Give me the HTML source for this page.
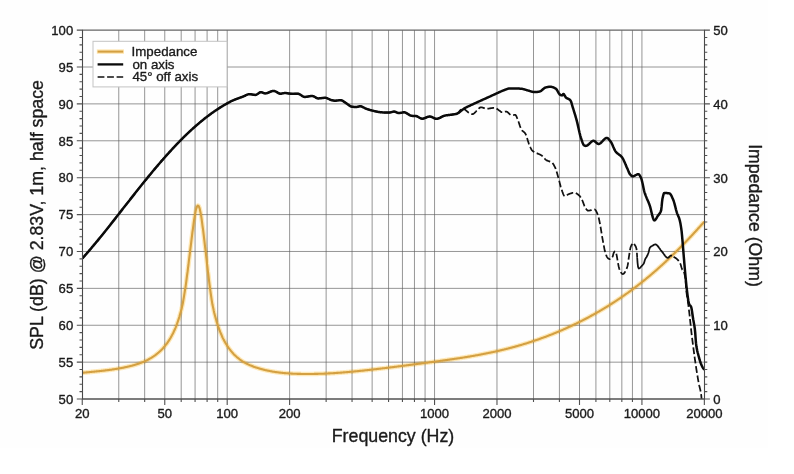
<!DOCTYPE html>
<html lang="en"><head><meta charset="utf-8"><title>Frequency response</title>
<style>html,body{margin:0;padding:0;background:#fff;}body{width:794px;height:474px;overflow:hidden;font-family:"Liberation Sans",Arial,Helvetica,sans-serif;}svg{display:block;}</style>
</head><body>
<svg width="794" height="474" viewBox="0 0 794 474" font-family="'Liberation Sans', Arial, Helvetica, sans-serif" fill="#1a1a1a">
<style>text{stroke:#1a1a1a;stroke-width:0.35px;stroke-linejoin:round}</style>
<rect width="794" height="474" fill="#ffffff"/>
<rect x="0" y="0" width="768" height="448" fill="#fefefe"/>
<path d="M118.77,30.1V399.05 M144.67,30.1V399.05 M164.77,30.1V399.05 M181.19,30.1V399.05 M195.07,30.1V399.05 M207.10,30.1V399.05 M217.70,30.1V399.05 M227.19,30.1V399.05 M289.62,30.1V399.05 M326.13,30.1V399.05 M352.04,30.1V399.05 M372.14,30.1V399.05 M388.56,30.1V399.05 M402.44,30.1V399.05 M414.46,30.1V399.05 M425.07,30.1V399.05 M434.56,30.1V399.05 M496.98,30.1V399.05 M533.50,30.1V399.05 M559.41,30.1V399.05 M579.50,30.1V399.05 M595.92,30.1V399.05 M609.80,30.1V399.05 M621.83,30.1V399.05 M632.44,30.1V399.05 M641.93,30.1V399.05 M82.5,362.16H704.5 M82.5,325.26H704.5 M82.5,288.37H704.5 M82.5,251.47H704.5 M82.5,214.58H704.5 M82.5,177.68H704.5 M82.5,140.79H704.5 M82.5,103.89H704.5 M82.5,67.00H704.5" stroke="#5c5c5c" stroke-width="0.65" fill="none"/>
<clipPath id="c"><rect x="82.25" y="30.1" width="622.1" height="369.55"/></clipPath>
<path d="M82.2,372.8 L82.8,372.7 L83.2,372.7 L83.8,372.6 L84.2,372.6 L84.8,372.5 L85.2,372.5 L85.8,372.5 L86.2,372.4 L86.8,372.4 L87.2,372.3 L87.8,372.3 L88.2,372.2 L88.8,372.2 L89.2,372.1 L89.8,372.1 L90.2,372.0 L90.8,372.0 L91.2,371.9 L91.8,371.9 L92.2,371.8 L92.8,371.8 L93.2,371.7 L93.8,371.7 L94.2,371.6 L94.8,371.6 L95.2,371.5 L95.8,371.5 L96.2,371.4 L96.8,371.4 L97.2,371.3 L97.8,371.3 L98.2,371.2 L98.8,371.2 L99.2,371.1 L99.8,371.1 L100.2,371.0 L100.8,371.0 L101.2,370.9 L101.8,370.9 L102.2,370.8 L102.8,370.7 L103.2,370.7 L103.8,370.6 L104.2,370.6 L104.8,370.5 L105.2,370.4 L105.8,370.4 L106.2,370.3 L106.8,370.3 L107.2,370.2 L107.8,370.1 L108.2,370.1 L108.8,370.0 L109.2,369.9 L109.8,369.9 L110.2,369.8 L110.8,369.7 L111.2,369.7 L111.8,369.6 L112.2,369.5 L112.8,369.4 L113.2,369.4 L113.8,369.3 L114.2,369.2 L114.8,369.1 L115.2,369.0 L115.8,369.0 L116.3,368.9 L116.8,368.8 L117.3,368.7 L117.9,368.6 L118.4,368.5 L118.9,368.4 L119.5,368.3 L120.0,368.3 L120.5,368.2 L121.0,368.1 L121.6,368.0 L122.1,367.9 L122.6,367.8 L123.2,367.7 L123.7,367.6 L124.2,367.5 L124.7,367.3 L125.3,367.2 L125.8,367.1 L126.3,367.0 L126.9,366.9 L127.4,366.8 L127.9,366.6 L128.4,366.5 L129.0,366.4 L129.5,366.3 L130.0,366.1 L130.6,366.0 L131.1,365.9 L131.6,365.7 L132.2,365.6 L132.7,365.5 L133.2,365.3 L133.7,365.2 L134.3,365.0 L134.8,364.9 L135.3,364.7 L135.9,364.5 L136.4,364.4 L136.9,364.2 L137.5,364.0 L138.0,363.9 L138.5,363.7 L139.1,363.5 L139.6,363.3 L140.1,363.1 L140.7,362.9 L141.2,362.7 L141.7,362.5 L142.3,362.3 L142.8,362.1 L143.3,361.9 L143.8,361.7 L144.3,361.5 L144.8,361.3 L145.3,361.0 L145.8,360.8 L146.3,360.6 L146.8,360.3 L147.3,360.1 L147.8,359.8 L148.3,359.5 L148.7,359.3 L149.2,359.0 L149.7,358.7 L150.2,358.4 L150.7,358.2 L151.2,357.9 L151.7,357.6 L152.2,357.2 L152.7,356.9 L153.2,356.6 L153.7,356.3 L154.2,355.9 L154.7,355.6 L155.2,355.2 L155.7,354.9 L156.1,354.5 L156.6,354.1 L157.1,353.7 L157.6,353.3 L158.1,352.9 L158.6,352.5 L159.1,352.0 L159.6,351.6 L160.1,351.1 L160.6,350.7 L161.1,350.2 L161.6,349.7 L162.1,349.2 L162.6,348.7 L163.1,348.1 L163.5,347.6 L164.0,347.0 L164.5,346.5 L165.0,345.9 L165.5,345.2 L166.0,344.6 L166.5,344.0 L167.0,343.3 L167.5,342.6 L168.0,341.9 L168.5,341.2 L169.0,340.4 L169.5,339.6 L170.0,338.8 L170.5,338.0 L170.9,337.2 L171.4,336.3 L171.9,335.4 L172.4,334.4 L172.9,333.5 L173.4,332.5 L173.9,331.4 L174.4,330.3 L174.9,329.2 L175.4,328.1 L175.9,326.9 L176.4,325.6 L176.9,324.4 L177.3,323.0 L177.8,321.6 L178.3,320.2 L178.8,318.7 L179.3,317.1 L179.7,315.5 L180.2,313.8 L180.7,312.1 L181.2,310.3 L181.7,308.4 L182.1,306.4 L182.6,304.3 L183.0,302.2 L183.4,299.9 L183.8,297.6 L184.2,295.2 L184.6,292.6 L185.0,290.0 L185.5,287.2 L185.9,284.3 L186.3,281.3 L186.7,278.2 L187.1,275.0 L187.6,271.6 L188.0,268.1 L188.5,264.5 L188.9,260.7 L189.4,256.9 L189.9,252.9 L190.4,248.9 L190.9,244.8 L191.4,240.6 L191.9,236.5 L192.4,232.4 L193.0,228.3 L193.5,224.4 L194.0,220.7 L194.6,217.2 L195.1,214.1 L195.6,211.4 L196.1,209.1 L196.7,207.3 L197.2,206.2 L197.8,205.6 L198.3,205.7 L198.8,206.4 L199.4,207.7 L199.9,209.6 L200.4,212.0 L201.0,214.9 L201.5,218.2 L202.0,221.9 L202.5,225.8 L203.1,229.9 L203.6,234.1 L204.1,238.4 L204.6,242.7 L205.1,247.0 L205.7,251.3 L206.1,255.5 L206.6,259.7 L207.0,263.7 L207.5,267.6 L207.9,271.3 L208.4,275.0 L208.8,278.5 L209.2,281.8 L209.6,285.1 L210.0,288.2 L210.4,291.2 L210.8,294.0 L211.2,296.7 L211.6,299.4 L212.0,301.9 L212.4,304.3 L212.9,306.6 L213.4,308.8 L213.8,310.9 L214.3,313.0 L214.8,314.9 L215.3,316.8 L215.8,318.6 L216.3,320.3 L216.7,322.0 L217.2,323.5 L217.7,325.1 L218.2,326.5 L218.7,328.0 L219.2,329.3 L219.7,330.6 L220.2,331.9 L220.7,333.1 L221.2,334.3 L221.7,335.4 L222.1,336.5 L222.6,337.6 L223.1,338.6 L223.6,339.6 L224.1,340.5 L224.6,341.4 L225.1,342.3 L225.6,343.2 L226.1,344.0 L226.6,344.8 L227.1,345.6 L227.6,346.4 L228.1,347.1 L228.6,347.8 L229.1,348.5 L229.6,349.2 L230.1,349.8 L230.6,350.4 L231.1,351.1 L231.6,351.7 L232.0,352.2 L232.5,352.8 L233.0,353.3 L233.5,353.9 L234.0,354.4 L234.5,354.9 L235.0,355.4 L235.5,355.8 L236.0,356.3 L236.5,356.7 L237.0,357.2 L237.5,357.6 L238.0,358.0 L238.5,358.4 L239.0,358.8 L239.5,359.2 L240.0,359.6 L240.5,359.9 L241.0,360.3 L241.5,360.6 L241.9,361.0 L242.4,361.3 L242.9,361.6 L243.4,361.9 L244.0,362.2 L244.5,362.5 L245.1,362.8 L245.6,363.1 L246.1,363.4 L246.7,363.7 L247.2,363.9 L247.8,364.2 L248.3,364.4 L248.9,364.7 L249.4,364.9 L249.9,365.2 L250.5,365.4 L251.0,365.6 L251.6,365.8 L252.1,366.0 L252.6,366.3 L253.2,366.5 L253.7,366.7 L254.3,366.9 L254.8,367.0 L255.3,367.2 L255.9,367.4 L256.4,367.6 L257.0,367.8 L257.5,367.9 L258.0,368.1 L258.6,368.3 L259.1,368.4 L259.6,368.6 L260.2,368.7 L260.7,368.9 L261.2,369.0 L261.8,369.2 L262.2,369.3 L262.8,369.4 L263.2,369.6 L263.8,369.7 L264.2,369.8 L264.8,370.0 L265.2,370.1 L265.8,370.2 L266.2,370.3 L266.8,370.4 L267.2,370.5 L267.8,370.6 L268.2,370.7 L268.8,370.8 L269.2,370.9 L269.8,371.0 L270.2,371.1 L270.8,371.2 L271.2,371.3 L271.8,371.4 L272.2,371.5 L272.8,371.6 L273.2,371.7 L273.8,371.8 L274.2,371.8 L274.8,371.9 L275.2,372.0 L275.8,372.1 L276.2,372.1 L276.8,372.2 L277.2,372.3 L277.8,372.3 L278.2,372.4 L278.8,372.5 L279.2,372.5 L279.8,372.6 L280.2,372.6 L280.8,372.7 L281.2,372.8 L281.8,372.8 L282.2,372.9 L282.8,372.9 L283.2,373.0 L283.8,373.0 L284.2,373.1 L284.8,373.1 L285.2,373.1 L285.8,373.2 L286.2,373.2 L286.8,373.3 L287.2,373.3 L287.8,373.3 L288.2,373.4 L288.8,373.4 L289.2,373.5 L289.8,373.5 L290.2,373.5 L290.8,373.5 L291.2,373.6 L291.8,373.6 L292.2,373.6 L292.8,373.7 L293.2,373.7 L293.8,373.7 L294.2,373.7 L294.8,373.8 L295.2,373.8 L295.8,373.8 L296.2,373.8 L296.8,373.8 L297.2,373.9 L297.8,373.9 L298.2,373.9 L298.8,373.9 L299.2,373.9 L299.8,373.9 L300.2,373.9 L300.8,373.9 L301.2,374.0 L301.8,374.0 L302.2,374.0 L302.8,374.0 L303.2,374.0 L303.8,374.0 L304.2,374.0 L304.8,374.0 L305.2,374.0 L305.8,374.0 L306.2,374.0 L306.8,374.0 L307.2,374.0 L307.8,374.0 L308.2,374.0 L308.8,374.0 L309.2,374.0 L309.8,374.0 L310.2,374.0 L310.8,374.0 L311.2,374.0 L311.8,374.0 L312.2,374.0 L312.8,374.0 L313.2,374.0 L313.8,374.0 L314.2,373.9 L314.8,373.9 L315.2,373.9 L315.8,373.9 L316.2,373.9 L316.8,373.9 L317.2,373.9 L317.8,373.9 L318.2,373.8 L318.8,373.8 L319.2,373.8 L319.8,373.8 L320.2,373.8 L320.8,373.8 L321.2,373.8 L321.8,373.7 L322.2,373.7 L322.8,373.7 L323.2,373.7 L323.8,373.7 L324.2,373.6 L324.8,373.6 L325.2,373.6 L325.8,373.6 L326.2,373.5 L326.8,373.5 L327.2,373.5 L327.8,373.5 L328.2,373.4 L328.8,373.4 L329.2,373.4 L329.8,373.4 L330.2,373.3 L330.8,373.3 L331.2,373.3 L331.8,373.2 L332.2,373.2 L332.8,373.2 L333.2,373.2 L333.8,373.1 L334.2,373.1 L334.8,373.1 L335.2,373.0 L335.8,373.0 L336.2,373.0 L336.8,372.9 L337.2,372.9 L337.8,372.9 L338.2,372.8 L338.8,372.8 L339.2,372.7 L339.8,372.7 L340.2,372.7 L340.8,372.6 L341.2,372.6 L341.8,372.6 L342.2,372.5 L342.8,372.5 L343.2,372.4 L343.8,372.4 L344.2,372.4 L344.8,372.3 L345.2,372.3 L345.8,372.2 L346.2,372.2 L346.8,372.1 L347.2,372.1 L347.8,372.1 L348.2,372.0 L348.8,372.0 L349.2,371.9 L349.8,371.9 L350.2,371.8 L350.8,371.8 L351.2,371.7 L351.8,371.7 L352.2,371.7 L352.8,371.6 L353.2,371.6 L353.8,371.5 L354.2,371.5 L354.8,371.4 L355.2,371.4 L355.8,371.3 L356.2,371.3 L356.8,371.2 L357.2,371.2 L357.8,371.1 L358.2,371.1 L358.8,371.0 L359.2,371.0 L359.8,370.9 L360.2,370.9 L360.8,370.8 L361.2,370.8 L361.8,370.7 L362.2,370.7 L362.8,370.6 L363.2,370.6 L363.8,370.5 L364.2,370.5 L364.8,370.4 L365.2,370.3 L365.8,370.3 L366.2,370.2 L366.8,370.2 L367.2,370.1 L367.8,370.1 L368.2,370.0 L368.8,370.0 L369.2,369.9 L369.8,369.9 L370.2,369.8 L370.8,369.7 L371.2,369.7 L371.8,369.6 L372.2,369.6 L372.8,369.5 L373.2,369.5 L373.8,369.4 L374.2,369.3 L374.8,369.3 L375.2,369.2 L375.8,369.2 L376.2,369.1 L376.8,369.1 L377.2,369.0 L377.8,368.9 L378.2,368.9 L378.8,368.8 L379.2,368.8 L379.8,368.7 L380.2,368.6 L380.8,368.6 L381.2,368.5 L381.8,368.5 L382.2,368.4 L382.8,368.3 L383.2,368.3 L383.8,368.2 L384.2,368.2 L384.8,368.1 L385.2,368.0 L385.8,368.0 L386.2,367.9 L386.8,367.9 L387.2,367.8 L387.8,367.7 L388.2,367.7 L388.8,367.6 L389.2,367.5 L389.8,367.5 L390.2,367.4 L390.8,367.4 L391.2,367.3 L391.8,367.2 L392.2,367.2 L392.8,367.1 L393.2,367.1 L393.8,367.0 L394.2,366.9 L394.8,366.9 L395.2,366.8 L395.8,366.7 L396.2,366.7 L396.8,366.6 L397.2,366.5 L397.8,366.5 L398.2,366.4 L398.8,366.4 L399.2,366.3 L399.8,366.2 L400.2,366.2 L400.8,366.1 L401.2,366.0 L401.8,366.0 L402.2,365.9 L402.8,365.8 L403.2,365.8 L403.8,365.7 L404.2,365.6 L404.8,365.6 L405.2,365.5 L405.8,365.5 L406.2,365.4 L406.8,365.3 L407.2,365.3 L407.8,365.2 L408.2,365.1 L408.8,365.1 L409.2,365.0 L409.8,364.9 L410.2,364.9 L410.8,364.8 L411.2,364.7 L411.8,364.7 L412.2,364.6 L412.8,364.5 L413.2,364.5 L413.8,364.4 L414.2,364.4 L414.8,364.3 L415.2,364.2 L415.8,364.2 L416.2,364.1 L416.8,364.0 L417.2,364.0 L417.8,363.9 L418.2,363.8 L418.8,363.8 L419.2,363.7 L419.8,363.6 L420.2,363.6 L420.8,363.5 L421.2,363.4 L421.8,363.4 L422.2,363.3 L422.8,363.2 L423.2,363.2 L423.8,363.1 L424.2,363.0 L424.8,363.0 L425.2,362.9 L425.8,362.8 L426.2,362.8 L426.8,362.7 L427.2,362.7 L427.8,362.6 L428.2,362.5 L428.8,362.5 L429.2,362.4 L429.8,362.3 L430.2,362.3 L430.8,362.2 L431.2,362.1 L431.8,362.1 L432.2,362.0 L432.8,361.9 L433.2,361.9 L433.8,361.8 L434.2,361.7 L434.8,361.7 L435.2,361.6 L435.8,361.5 L436.2,361.5 L436.8,361.4 L437.2,361.3 L437.8,361.3 L438.2,361.2 L438.8,361.1 L439.2,361.0 L439.8,361.0 L440.2,360.9 L440.8,360.8 L441.2,360.8 L441.8,360.7 L442.2,360.6 L442.8,360.6 L443.2,360.5 L443.8,360.4 L444.2,360.4 L444.8,360.3 L445.2,360.2 L445.8,360.1 L446.2,360.1 L446.8,360.0 L447.2,359.9 L447.8,359.9 L448.2,359.8 L448.8,359.7 L449.2,359.6 L449.8,359.6 L450.2,359.5 L450.8,359.4 L451.2,359.4 L451.8,359.3 L452.2,359.2 L452.8,359.1 L453.2,359.1 L453.8,359.0 L454.2,358.9 L454.8,358.8 L455.2,358.8 L455.8,358.7 L456.2,358.6 L456.8,358.5 L457.2,358.5 L457.8,358.4 L458.2,358.3 L458.8,358.2 L459.2,358.2 L459.8,358.1 L460.2,358.0 L460.8,357.9 L461.2,357.9 L461.8,357.8 L462.2,357.7 L462.8,357.6 L463.2,357.5 L463.8,357.5 L464.2,357.4 L464.8,357.3 L465.2,357.2 L465.8,357.1 L466.2,357.1 L466.8,357.0 L467.2,356.9 L467.8,356.8 L468.2,356.7 L468.8,356.6 L469.2,356.6 L469.8,356.5 L470.2,356.4 L470.8,356.3 L471.2,356.2 L471.8,356.1 L472.2,356.0 L472.8,356.0 L473.2,355.9 L473.8,355.8 L474.2,355.7 L474.8,355.6 L475.2,355.5 L475.8,355.4 L476.2,355.3 L476.8,355.2 L477.2,355.2 L477.8,355.1 L478.2,355.0 L478.8,354.9 L479.2,354.8 L479.8,354.7 L480.2,354.6 L480.8,354.5 L481.2,354.4 L481.8,354.3 L482.2,354.2 L482.8,354.1 L483.2,354.0 L483.8,353.9 L484.2,353.8 L484.8,353.7 L485.2,353.6 L485.8,353.5 L486.2,353.4 L486.8,353.3 L487.2,353.2 L487.8,353.1 L488.2,353.0 L488.8,352.9 L489.2,352.8 L489.8,352.7 L490.2,352.6 L490.8,352.5 L491.2,352.4 L491.8,352.3 L492.2,352.2 L492.8,352.1 L493.2,352.0 L493.8,351.9 L494.2,351.8 L494.8,351.7 L495.2,351.6 L495.8,351.4 L496.2,351.3 L496.8,351.2 L497.2,351.1 L497.8,351.0 L498.2,350.9 L498.8,350.8 L499.2,350.7 L499.8,350.5 L500.2,350.4 L500.8,350.3 L501.2,350.2 L501.8,350.1 L502.2,349.9 L502.8,349.8 L503.2,349.7 L503.8,349.6 L504.2,349.5 L504.8,349.3 L505.2,349.2 L505.8,349.1 L506.2,349.0 L506.8,348.8 L507.2,348.7 L507.8,348.6 L508.2,348.5 L508.8,348.3 L509.2,348.2 L509.8,348.1 L510.2,347.9 L510.8,347.8 L511.2,347.7 L511.8,347.6 L512.2,347.4 L512.8,347.3 L513.2,347.1 L513.8,347.0 L514.2,346.9 L514.8,346.7 L515.2,346.6 L515.8,346.5 L516.2,346.3 L516.8,346.2 L517.2,346.0 L517.8,345.9 L518.2,345.8 L518.8,345.6 L519.2,345.5 L519.8,345.3 L520.2,345.2 L520.8,345.0 L521.2,344.9 L521.8,344.7 L522.2,344.6 L522.8,344.4 L523.2,344.3 L523.8,344.1 L524.2,344.0 L524.8,343.8 L525.2,343.7 L525.8,343.5 L526.2,343.4 L526.8,343.2 L527.2,343.1 L527.8,342.9 L528.2,342.7 L528.8,342.6 L529.2,342.4 L529.8,342.3 L530.2,342.1 L530.8,341.9 L531.2,341.8 L531.8,341.6 L532.2,341.4 L532.8,341.3 L533.2,341.1 L533.8,340.9 L534.2,340.8 L534.8,340.6 L535.2,340.4 L535.8,340.3 L536.2,340.1 L536.8,339.9 L537.2,339.7 L537.8,339.6 L538.2,339.4 L538.8,339.2 L539.2,339.0 L539.8,338.9 L540.2,338.7 L540.8,338.5 L541.2,338.3 L541.8,338.1 L542.2,338.0 L542.8,337.8 L543.2,337.6 L543.8,337.4 L544.2,337.2 L544.8,337.0 L545.2,336.9 L545.8,336.7 L546.2,336.5 L546.8,336.3 L547.2,336.1 L547.8,335.9 L548.2,335.7 L548.8,335.5 L549.2,335.3 L549.8,335.1 L550.2,334.9 L550.8,334.7 L551.2,334.6 L551.8,334.4 L552.2,334.2 L552.8,334.0 L553.2,333.8 L553.8,333.6 L554.2,333.4 L554.8,333.1 L555.2,332.9 L555.8,332.7 L556.2,332.5 L556.8,332.3 L557.2,332.1 L557.8,331.9 L558.2,331.7 L558.8,331.5 L559.2,331.3 L559.8,331.1 L560.2,330.9 L560.8,330.6 L561.2,330.4 L561.8,330.2 L562.2,330.0 L562.8,329.8 L563.2,329.6 L563.8,329.3 L564.2,329.1 L564.8,328.9 L565.2,328.7 L565.8,328.5 L566.2,328.2 L566.8,328.0 L567.2,327.8 L567.8,327.6 L568.2,327.3 L568.8,327.1 L569.2,326.9 L569.8,326.6 L570.2,326.4 L570.8,326.2 L571.2,325.9 L571.8,325.7 L572.2,325.5 L572.8,325.2 L573.2,325.0 L573.8,324.8 L574.2,324.5 L574.8,324.3 L575.2,324.0 L575.8,323.8 L576.2,323.6 L576.8,323.3 L577.2,323.1 L577.8,322.8 L578.2,322.6 L578.8,322.3 L579.2,322.1 L579.8,321.8 L580.2,321.6 L580.8,321.3 L581.2,321.1 L581.8,320.8 L582.2,320.6 L582.8,320.3 L583.2,320.0 L583.8,319.8 L584.2,319.5 L584.8,319.3 L585.2,319.0 L585.8,318.7 L586.2,318.5 L586.8,318.2 L587.2,318.0 L587.8,317.7 L588.2,317.4 L588.8,317.2 L589.2,316.9 L589.8,316.6 L590.2,316.3 L590.8,316.1 L591.2,315.8 L591.8,315.5 L592.2,315.2 L592.8,315.0 L593.2,314.7 L593.8,314.4 L594.2,314.1 L594.8,313.9 L595.2,313.6 L595.8,313.3 L596.2,313.0 L596.8,312.7 L597.2,312.4 L597.8,312.1 L598.2,311.9 L598.8,311.6 L599.2,311.3 L599.8,311.0 L600.2,310.7 L600.8,310.4 L601.2,310.1 L601.8,309.8 L602.2,309.5 L602.8,309.2 L603.2,308.9 L603.8,308.6 L604.2,308.3 L604.8,308.0 L605.2,307.7 L605.8,307.4 L606.2,307.1 L606.8,306.8 L607.2,306.5 L607.8,306.2 L608.2,305.9 L608.8,305.5 L609.2,305.2 L609.8,304.9 L610.2,304.6 L610.8,304.3 L611.2,304.0 L611.8,303.7 L612.2,303.3 L612.8,303.0 L613.2,302.7 L613.8,302.4 L614.2,302.0 L614.8,301.7 L615.2,301.4 L615.8,301.1 L616.2,300.7 L616.8,300.4 L617.2,300.1 L617.8,299.7 L618.2,299.4 L618.8,299.1 L619.2,298.7 L619.8,298.4 L620.2,298.1 L620.8,297.7 L621.2,297.4 L621.8,297.0 L622.2,296.7 L622.8,296.3 L623.2,296.0 L623.8,295.6 L624.2,295.3 L624.8,294.9 L625.2,294.6 L625.8,294.2 L626.2,293.9 L626.8,293.5 L627.2,293.2 L627.8,292.8 L628.2,292.5 L628.8,292.1 L629.2,291.7 L629.8,291.4 L630.2,291.0 L630.8,290.6 L631.2,290.3 L631.8,289.9 L632.2,289.5 L632.8,289.2 L633.2,288.8 L633.8,288.4 L634.2,288.0 L634.8,287.7 L635.2,287.3 L635.8,286.9 L636.2,286.5 L636.8,286.2 L637.2,285.8 L637.8,285.4 L638.2,285.0 L638.8,284.6 L639.2,284.2 L639.8,283.8 L640.2,283.4 L640.8,283.1 L641.2,282.7 L641.8,282.3 L642.2,281.9 L642.8,281.5 L643.2,281.1 L643.8,280.7 L644.2,280.3 L644.8,279.9 L645.2,279.5 L645.8,279.1 L646.2,278.6 L646.8,278.2 L647.2,277.8 L647.8,277.4 L648.2,277.0 L648.8,276.6 L649.2,276.2 L649.8,275.8 L650.2,275.3 L650.8,274.9 L651.2,274.5 L651.8,274.1 L652.2,273.6 L652.8,273.2 L653.2,272.8 L653.8,272.4 L654.2,271.9 L654.8,271.5 L655.2,271.1 L655.8,270.6 L656.2,270.2 L656.8,269.8 L657.2,269.3 L657.8,268.9 L658.2,268.4 L658.8,268.0 L659.2,267.5 L659.8,267.1 L660.2,266.6 L660.8,266.2 L661.2,265.7 L661.8,265.3 L662.2,264.8 L662.8,264.4 L663.2,263.9 L663.8,263.5 L664.2,263.0 L664.8,262.5 L665.2,262.1 L665.8,261.6 L666.2,261.1 L666.8,260.7 L667.2,260.2 L667.8,259.7 L668.2,259.3 L668.8,258.8 L669.2,258.3 L669.8,257.8 L670.2,257.4 L670.8,256.9 L671.2,256.4 L671.8,255.9 L672.2,255.4 L672.8,254.9 L673.2,254.4 L673.8,254.0 L674.2,253.5 L674.8,253.0 L675.2,252.5 L675.8,252.0 L676.2,251.5 L676.8,251.0 L677.2,250.5 L677.8,250.0 L678.2,249.5 L678.8,249.0 L679.2,248.5 L679.8,248.0 L680.2,247.5 L680.8,247.0 L681.2,246.5 L681.8,246.0 L682.2,245.4 L682.8,244.9 L683.2,244.4 L683.8,243.9 L684.2,243.4 L684.8,242.9 L685.2,242.4 L685.8,241.8 L686.2,241.3 L686.8,240.8 L687.2,240.3 L687.8,239.7 L688.2,239.2 L688.8,238.7 L689.2,238.2 L689.8,237.6 L690.2,237.1 L690.8,236.6 L691.2,236.0 L691.8,235.5 L692.2,235.0 L692.8,234.4 L693.2,233.9 L693.8,233.3 L694.2,232.8 L694.8,232.3 L695.2,231.7 L695.8,231.2 L696.2,230.6 L696.8,230.1 L697.2,229.5 L697.8,229.0 L698.2,228.4 L698.8,227.9 L699.2,227.3 L699.8,226.8 L700.2,226.2 L700.8,225.7 L701.2,225.1 L701.8,224.5 L702.2,224.0 L702.8,223.4 L703.2,222.9 L703.8,222.3 L704.2,221.7" stroke="#ffe9b8" stroke-width="4.6" fill="none" stroke-linejoin="round" style="mix-blend-mode:multiply"/>
<path d="M82.2,372.8 L82.8,372.7 L83.2,372.7 L83.8,372.6 L84.2,372.6 L84.8,372.5 L85.2,372.5 L85.8,372.5 L86.2,372.4 L86.8,372.4 L87.2,372.3 L87.8,372.3 L88.2,372.2 L88.8,372.2 L89.2,372.1 L89.8,372.1 L90.2,372.0 L90.8,372.0 L91.2,371.9 L91.8,371.9 L92.2,371.8 L92.8,371.8 L93.2,371.7 L93.8,371.7 L94.2,371.6 L94.8,371.6 L95.2,371.5 L95.8,371.5 L96.2,371.4 L96.8,371.4 L97.2,371.3 L97.8,371.3 L98.2,371.2 L98.8,371.2 L99.2,371.1 L99.8,371.1 L100.2,371.0 L100.8,371.0 L101.2,370.9 L101.8,370.9 L102.2,370.8 L102.8,370.7 L103.2,370.7 L103.8,370.6 L104.2,370.6 L104.8,370.5 L105.2,370.4 L105.8,370.4 L106.2,370.3 L106.8,370.3 L107.2,370.2 L107.8,370.1 L108.2,370.1 L108.8,370.0 L109.2,369.9 L109.8,369.9 L110.2,369.8 L110.8,369.7 L111.2,369.7 L111.8,369.6 L112.2,369.5 L112.8,369.4 L113.2,369.4 L113.8,369.3 L114.2,369.2 L114.8,369.1 L115.2,369.0 L115.8,369.0 L116.3,368.9 L116.8,368.8 L117.3,368.7 L117.9,368.6 L118.4,368.5 L118.9,368.4 L119.5,368.3 L120.0,368.3 L120.5,368.2 L121.0,368.1 L121.6,368.0 L122.1,367.9 L122.6,367.8 L123.2,367.7 L123.7,367.6 L124.2,367.5 L124.7,367.3 L125.3,367.2 L125.8,367.1 L126.3,367.0 L126.9,366.9 L127.4,366.8 L127.9,366.6 L128.4,366.5 L129.0,366.4 L129.5,366.3 L130.0,366.1 L130.6,366.0 L131.1,365.9 L131.6,365.7 L132.2,365.6 L132.7,365.5 L133.2,365.3 L133.7,365.2 L134.3,365.0 L134.8,364.9 L135.3,364.7 L135.9,364.5 L136.4,364.4 L136.9,364.2 L137.5,364.0 L138.0,363.9 L138.5,363.7 L139.1,363.5 L139.6,363.3 L140.1,363.1 L140.7,362.9 L141.2,362.7 L141.7,362.5 L142.3,362.3 L142.8,362.1 L143.3,361.9 L143.8,361.7 L144.3,361.5 L144.8,361.3 L145.3,361.0 L145.8,360.8 L146.3,360.6 L146.8,360.3 L147.3,360.1 L147.8,359.8 L148.3,359.5 L148.7,359.3 L149.2,359.0 L149.7,358.7 L150.2,358.4 L150.7,358.2 L151.2,357.9 L151.7,357.6 L152.2,357.2 L152.7,356.9 L153.2,356.6 L153.7,356.3 L154.2,355.9 L154.7,355.6 L155.2,355.2 L155.7,354.9 L156.1,354.5 L156.6,354.1 L157.1,353.7 L157.6,353.3 L158.1,352.9 L158.6,352.5 L159.1,352.0 L159.6,351.6 L160.1,351.1 L160.6,350.7 L161.1,350.2 L161.6,349.7 L162.1,349.2 L162.6,348.7 L163.1,348.1 L163.5,347.6 L164.0,347.0 L164.5,346.5 L165.0,345.9 L165.5,345.2 L166.0,344.6 L166.5,344.0 L167.0,343.3 L167.5,342.6 L168.0,341.9 L168.5,341.2 L169.0,340.4 L169.5,339.6 L170.0,338.8 L170.5,338.0 L170.9,337.2 L171.4,336.3 L171.9,335.4 L172.4,334.4 L172.9,333.5 L173.4,332.5 L173.9,331.4 L174.4,330.3 L174.9,329.2 L175.4,328.1 L175.9,326.9 L176.4,325.6 L176.9,324.4 L177.3,323.0 L177.8,321.6 L178.3,320.2 L178.8,318.7 L179.3,317.1 L179.7,315.5 L180.2,313.8 L180.7,312.1 L181.2,310.3 L181.7,308.4 L182.1,306.4 L182.6,304.3 L183.0,302.2 L183.4,299.9 L183.8,297.6 L184.2,295.2 L184.6,292.6 L185.0,290.0 L185.5,287.2 L185.9,284.3 L186.3,281.3 L186.7,278.2 L187.1,275.0 L187.6,271.6 L188.0,268.1 L188.5,264.5 L188.9,260.7 L189.4,256.9 L189.9,252.9 L190.4,248.9 L190.9,244.8 L191.4,240.6 L191.9,236.5 L192.4,232.4 L193.0,228.3 L193.5,224.4 L194.0,220.7 L194.6,217.2 L195.1,214.1 L195.6,211.4 L196.1,209.1 L196.7,207.3 L197.2,206.2 L197.8,205.6 L198.3,205.7 L198.8,206.4 L199.4,207.7 L199.9,209.6 L200.4,212.0 L201.0,214.9 L201.5,218.2 L202.0,221.9 L202.5,225.8 L203.1,229.9 L203.6,234.1 L204.1,238.4 L204.6,242.7 L205.1,247.0 L205.7,251.3 L206.1,255.5 L206.6,259.7 L207.0,263.7 L207.5,267.6 L207.9,271.3 L208.4,275.0 L208.8,278.5 L209.2,281.8 L209.6,285.1 L210.0,288.2 L210.4,291.2 L210.8,294.0 L211.2,296.7 L211.6,299.4 L212.0,301.9 L212.4,304.3 L212.9,306.6 L213.4,308.8 L213.8,310.9 L214.3,313.0 L214.8,314.9 L215.3,316.8 L215.8,318.6 L216.3,320.3 L216.7,322.0 L217.2,323.5 L217.7,325.1 L218.2,326.5 L218.7,328.0 L219.2,329.3 L219.7,330.6 L220.2,331.9 L220.7,333.1 L221.2,334.3 L221.7,335.4 L222.1,336.5 L222.6,337.6 L223.1,338.6 L223.6,339.6 L224.1,340.5 L224.6,341.4 L225.1,342.3 L225.6,343.2 L226.1,344.0 L226.6,344.8 L227.1,345.6 L227.6,346.4 L228.1,347.1 L228.6,347.8 L229.1,348.5 L229.6,349.2 L230.1,349.8 L230.6,350.4 L231.1,351.1 L231.6,351.7 L232.0,352.2 L232.5,352.8 L233.0,353.3 L233.5,353.9 L234.0,354.4 L234.5,354.9 L235.0,355.4 L235.5,355.8 L236.0,356.3 L236.5,356.7 L237.0,357.2 L237.5,357.6 L238.0,358.0 L238.5,358.4 L239.0,358.8 L239.5,359.2 L240.0,359.6 L240.5,359.9 L241.0,360.3 L241.5,360.6 L241.9,361.0 L242.4,361.3 L242.9,361.6 L243.4,361.9 L244.0,362.2 L244.5,362.5 L245.1,362.8 L245.6,363.1 L246.1,363.4 L246.7,363.7 L247.2,363.9 L247.8,364.2 L248.3,364.4 L248.9,364.7 L249.4,364.9 L249.9,365.2 L250.5,365.4 L251.0,365.6 L251.6,365.8 L252.1,366.0 L252.6,366.3 L253.2,366.5 L253.7,366.7 L254.3,366.9 L254.8,367.0 L255.3,367.2 L255.9,367.4 L256.4,367.6 L257.0,367.8 L257.5,367.9 L258.0,368.1 L258.6,368.3 L259.1,368.4 L259.6,368.6 L260.2,368.7 L260.7,368.9 L261.2,369.0 L261.8,369.2 L262.2,369.3 L262.8,369.4 L263.2,369.6 L263.8,369.7 L264.2,369.8 L264.8,370.0 L265.2,370.1 L265.8,370.2 L266.2,370.3 L266.8,370.4 L267.2,370.5 L267.8,370.6 L268.2,370.7 L268.8,370.8 L269.2,370.9 L269.8,371.0 L270.2,371.1 L270.8,371.2 L271.2,371.3 L271.8,371.4 L272.2,371.5 L272.8,371.6 L273.2,371.7 L273.8,371.8 L274.2,371.8 L274.8,371.9 L275.2,372.0 L275.8,372.1 L276.2,372.1 L276.8,372.2 L277.2,372.3 L277.8,372.3 L278.2,372.4 L278.8,372.5 L279.2,372.5 L279.8,372.6 L280.2,372.6 L280.8,372.7 L281.2,372.8 L281.8,372.8 L282.2,372.9 L282.8,372.9 L283.2,373.0 L283.8,373.0 L284.2,373.1 L284.8,373.1 L285.2,373.1 L285.8,373.2 L286.2,373.2 L286.8,373.3 L287.2,373.3 L287.8,373.3 L288.2,373.4 L288.8,373.4 L289.2,373.5 L289.8,373.5 L290.2,373.5 L290.8,373.5 L291.2,373.6 L291.8,373.6 L292.2,373.6 L292.8,373.7 L293.2,373.7 L293.8,373.7 L294.2,373.7 L294.8,373.8 L295.2,373.8 L295.8,373.8 L296.2,373.8 L296.8,373.8 L297.2,373.9 L297.8,373.9 L298.2,373.9 L298.8,373.9 L299.2,373.9 L299.8,373.9 L300.2,373.9 L300.8,373.9 L301.2,374.0 L301.8,374.0 L302.2,374.0 L302.8,374.0 L303.2,374.0 L303.8,374.0 L304.2,374.0 L304.8,374.0 L305.2,374.0 L305.8,374.0 L306.2,374.0 L306.8,374.0 L307.2,374.0 L307.8,374.0 L308.2,374.0 L308.8,374.0 L309.2,374.0 L309.8,374.0 L310.2,374.0 L310.8,374.0 L311.2,374.0 L311.8,374.0 L312.2,374.0 L312.8,374.0 L313.2,374.0 L313.8,374.0 L314.2,373.9 L314.8,373.9 L315.2,373.9 L315.8,373.9 L316.2,373.9 L316.8,373.9 L317.2,373.9 L317.8,373.9 L318.2,373.8 L318.8,373.8 L319.2,373.8 L319.8,373.8 L320.2,373.8 L320.8,373.8 L321.2,373.8 L321.8,373.7 L322.2,373.7 L322.8,373.7 L323.2,373.7 L323.8,373.7 L324.2,373.6 L324.8,373.6 L325.2,373.6 L325.8,373.6 L326.2,373.5 L326.8,373.5 L327.2,373.5 L327.8,373.5 L328.2,373.4 L328.8,373.4 L329.2,373.4 L329.8,373.4 L330.2,373.3 L330.8,373.3 L331.2,373.3 L331.8,373.2 L332.2,373.2 L332.8,373.2 L333.2,373.2 L333.8,373.1 L334.2,373.1 L334.8,373.1 L335.2,373.0 L335.8,373.0 L336.2,373.0 L336.8,372.9 L337.2,372.9 L337.8,372.9 L338.2,372.8 L338.8,372.8 L339.2,372.7 L339.8,372.7 L340.2,372.7 L340.8,372.6 L341.2,372.6 L341.8,372.6 L342.2,372.5 L342.8,372.5 L343.2,372.4 L343.8,372.4 L344.2,372.4 L344.8,372.3 L345.2,372.3 L345.8,372.2 L346.2,372.2 L346.8,372.1 L347.2,372.1 L347.8,372.1 L348.2,372.0 L348.8,372.0 L349.2,371.9 L349.8,371.9 L350.2,371.8 L350.8,371.8 L351.2,371.7 L351.8,371.7 L352.2,371.7 L352.8,371.6 L353.2,371.6 L353.8,371.5 L354.2,371.5 L354.8,371.4 L355.2,371.4 L355.8,371.3 L356.2,371.3 L356.8,371.2 L357.2,371.2 L357.8,371.1 L358.2,371.1 L358.8,371.0 L359.2,371.0 L359.8,370.9 L360.2,370.9 L360.8,370.8 L361.2,370.8 L361.8,370.7 L362.2,370.7 L362.8,370.6 L363.2,370.6 L363.8,370.5 L364.2,370.5 L364.8,370.4 L365.2,370.3 L365.8,370.3 L366.2,370.2 L366.8,370.2 L367.2,370.1 L367.8,370.1 L368.2,370.0 L368.8,370.0 L369.2,369.9 L369.8,369.9 L370.2,369.8 L370.8,369.7 L371.2,369.7 L371.8,369.6 L372.2,369.6 L372.8,369.5 L373.2,369.5 L373.8,369.4 L374.2,369.3 L374.8,369.3 L375.2,369.2 L375.8,369.2 L376.2,369.1 L376.8,369.1 L377.2,369.0 L377.8,368.9 L378.2,368.9 L378.8,368.8 L379.2,368.8 L379.8,368.7 L380.2,368.6 L380.8,368.6 L381.2,368.5 L381.8,368.5 L382.2,368.4 L382.8,368.3 L383.2,368.3 L383.8,368.2 L384.2,368.2 L384.8,368.1 L385.2,368.0 L385.8,368.0 L386.2,367.9 L386.8,367.9 L387.2,367.8 L387.8,367.7 L388.2,367.7 L388.8,367.6 L389.2,367.5 L389.8,367.5 L390.2,367.4 L390.8,367.4 L391.2,367.3 L391.8,367.2 L392.2,367.2 L392.8,367.1 L393.2,367.1 L393.8,367.0 L394.2,366.9 L394.8,366.9 L395.2,366.8 L395.8,366.7 L396.2,366.7 L396.8,366.6 L397.2,366.5 L397.8,366.5 L398.2,366.4 L398.8,366.4 L399.2,366.3 L399.8,366.2 L400.2,366.2 L400.8,366.1 L401.2,366.0 L401.8,366.0 L402.2,365.9 L402.8,365.8 L403.2,365.8 L403.8,365.7 L404.2,365.6 L404.8,365.6 L405.2,365.5 L405.8,365.5 L406.2,365.4 L406.8,365.3 L407.2,365.3 L407.8,365.2 L408.2,365.1 L408.8,365.1 L409.2,365.0 L409.8,364.9 L410.2,364.9 L410.8,364.8 L411.2,364.7 L411.8,364.7 L412.2,364.6 L412.8,364.5 L413.2,364.5 L413.8,364.4 L414.2,364.4 L414.8,364.3 L415.2,364.2 L415.8,364.2 L416.2,364.1 L416.8,364.0 L417.2,364.0 L417.8,363.9 L418.2,363.8 L418.8,363.8 L419.2,363.7 L419.8,363.6 L420.2,363.6 L420.8,363.5 L421.2,363.4 L421.8,363.4 L422.2,363.3 L422.8,363.2 L423.2,363.2 L423.8,363.1 L424.2,363.0 L424.8,363.0 L425.2,362.9 L425.8,362.8 L426.2,362.8 L426.8,362.7 L427.2,362.7 L427.8,362.6 L428.2,362.5 L428.8,362.5 L429.2,362.4 L429.8,362.3 L430.2,362.3 L430.8,362.2 L431.2,362.1 L431.8,362.1 L432.2,362.0 L432.8,361.9 L433.2,361.9 L433.8,361.8 L434.2,361.7 L434.8,361.7 L435.2,361.6 L435.8,361.5 L436.2,361.5 L436.8,361.4 L437.2,361.3 L437.8,361.3 L438.2,361.2 L438.8,361.1 L439.2,361.0 L439.8,361.0 L440.2,360.9 L440.8,360.8 L441.2,360.8 L441.8,360.7 L442.2,360.6 L442.8,360.6 L443.2,360.5 L443.8,360.4 L444.2,360.4 L444.8,360.3 L445.2,360.2 L445.8,360.1 L446.2,360.1 L446.8,360.0 L447.2,359.9 L447.8,359.9 L448.2,359.8 L448.8,359.7 L449.2,359.6 L449.8,359.6 L450.2,359.5 L450.8,359.4 L451.2,359.4 L451.8,359.3 L452.2,359.2 L452.8,359.1 L453.2,359.1 L453.8,359.0 L454.2,358.9 L454.8,358.8 L455.2,358.8 L455.8,358.7 L456.2,358.6 L456.8,358.5 L457.2,358.5 L457.8,358.4 L458.2,358.3 L458.8,358.2 L459.2,358.2 L459.8,358.1 L460.2,358.0 L460.8,357.9 L461.2,357.9 L461.8,357.8 L462.2,357.7 L462.8,357.6 L463.2,357.5 L463.8,357.5 L464.2,357.4 L464.8,357.3 L465.2,357.2 L465.8,357.1 L466.2,357.1 L466.8,357.0 L467.2,356.9 L467.8,356.8 L468.2,356.7 L468.8,356.6 L469.2,356.6 L469.8,356.5 L470.2,356.4 L470.8,356.3 L471.2,356.2 L471.8,356.1 L472.2,356.0 L472.8,356.0 L473.2,355.9 L473.8,355.8 L474.2,355.7 L474.8,355.6 L475.2,355.5 L475.8,355.4 L476.2,355.3 L476.8,355.2 L477.2,355.2 L477.8,355.1 L478.2,355.0 L478.8,354.9 L479.2,354.8 L479.8,354.7 L480.2,354.6 L480.8,354.5 L481.2,354.4 L481.8,354.3 L482.2,354.2 L482.8,354.1 L483.2,354.0 L483.8,353.9 L484.2,353.8 L484.8,353.7 L485.2,353.6 L485.8,353.5 L486.2,353.4 L486.8,353.3 L487.2,353.2 L487.8,353.1 L488.2,353.0 L488.8,352.9 L489.2,352.8 L489.8,352.7 L490.2,352.6 L490.8,352.5 L491.2,352.4 L491.8,352.3 L492.2,352.2 L492.8,352.1 L493.2,352.0 L493.8,351.9 L494.2,351.8 L494.8,351.7 L495.2,351.6 L495.8,351.4 L496.2,351.3 L496.8,351.2 L497.2,351.1 L497.8,351.0 L498.2,350.9 L498.8,350.8 L499.2,350.7 L499.8,350.5 L500.2,350.4 L500.8,350.3 L501.2,350.2 L501.8,350.1 L502.2,349.9 L502.8,349.8 L503.2,349.7 L503.8,349.6 L504.2,349.5 L504.8,349.3 L505.2,349.2 L505.8,349.1 L506.2,349.0 L506.8,348.8 L507.2,348.7 L507.8,348.6 L508.2,348.5 L508.8,348.3 L509.2,348.2 L509.8,348.1 L510.2,347.9 L510.8,347.8 L511.2,347.7 L511.8,347.6 L512.2,347.4 L512.8,347.3 L513.2,347.1 L513.8,347.0 L514.2,346.9 L514.8,346.7 L515.2,346.6 L515.8,346.5 L516.2,346.3 L516.8,346.2 L517.2,346.0 L517.8,345.9 L518.2,345.8 L518.8,345.6 L519.2,345.5 L519.8,345.3 L520.2,345.2 L520.8,345.0 L521.2,344.9 L521.8,344.7 L522.2,344.6 L522.8,344.4 L523.2,344.3 L523.8,344.1 L524.2,344.0 L524.8,343.8 L525.2,343.7 L525.8,343.5 L526.2,343.4 L526.8,343.2 L527.2,343.1 L527.8,342.9 L528.2,342.7 L528.8,342.6 L529.2,342.4 L529.8,342.3 L530.2,342.1 L530.8,341.9 L531.2,341.8 L531.8,341.6 L532.2,341.4 L532.8,341.3 L533.2,341.1 L533.8,340.9 L534.2,340.8 L534.8,340.6 L535.2,340.4 L535.8,340.3 L536.2,340.1 L536.8,339.9 L537.2,339.7 L537.8,339.6 L538.2,339.4 L538.8,339.2 L539.2,339.0 L539.8,338.9 L540.2,338.7 L540.8,338.5 L541.2,338.3 L541.8,338.1 L542.2,338.0 L542.8,337.8 L543.2,337.6 L543.8,337.4 L544.2,337.2 L544.8,337.0 L545.2,336.9 L545.8,336.7 L546.2,336.5 L546.8,336.3 L547.2,336.1 L547.8,335.9 L548.2,335.7 L548.8,335.5 L549.2,335.3 L549.8,335.1 L550.2,334.9 L550.8,334.7 L551.2,334.6 L551.8,334.4 L552.2,334.2 L552.8,334.0 L553.2,333.8 L553.8,333.6 L554.2,333.4 L554.8,333.1 L555.2,332.9 L555.8,332.7 L556.2,332.5 L556.8,332.3 L557.2,332.1 L557.8,331.9 L558.2,331.7 L558.8,331.5 L559.2,331.3 L559.8,331.1 L560.2,330.9 L560.8,330.6 L561.2,330.4 L561.8,330.2 L562.2,330.0 L562.8,329.8 L563.2,329.6 L563.8,329.3 L564.2,329.1 L564.8,328.9 L565.2,328.7 L565.8,328.5 L566.2,328.2 L566.8,328.0 L567.2,327.8 L567.8,327.6 L568.2,327.3 L568.8,327.1 L569.2,326.9 L569.8,326.6 L570.2,326.4 L570.8,326.2 L571.2,325.9 L571.8,325.7 L572.2,325.5 L572.8,325.2 L573.2,325.0 L573.8,324.8 L574.2,324.5 L574.8,324.3 L575.2,324.0 L575.8,323.8 L576.2,323.6 L576.8,323.3 L577.2,323.1 L577.8,322.8 L578.2,322.6 L578.8,322.3 L579.2,322.1 L579.8,321.8 L580.2,321.6 L580.8,321.3 L581.2,321.1 L581.8,320.8 L582.2,320.6 L582.8,320.3 L583.2,320.0 L583.8,319.8 L584.2,319.5 L584.8,319.3 L585.2,319.0 L585.8,318.7 L586.2,318.5 L586.8,318.2 L587.2,318.0 L587.8,317.7 L588.2,317.4 L588.8,317.2 L589.2,316.9 L589.8,316.6 L590.2,316.3 L590.8,316.1 L591.2,315.8 L591.8,315.5 L592.2,315.2 L592.8,315.0 L593.2,314.7 L593.8,314.4 L594.2,314.1 L594.8,313.9 L595.2,313.6 L595.8,313.3 L596.2,313.0 L596.8,312.7 L597.2,312.4 L597.8,312.1 L598.2,311.9 L598.8,311.6 L599.2,311.3 L599.8,311.0 L600.2,310.7 L600.8,310.4 L601.2,310.1 L601.8,309.8 L602.2,309.5 L602.8,309.2 L603.2,308.9 L603.8,308.6 L604.2,308.3 L604.8,308.0 L605.2,307.7 L605.8,307.4 L606.2,307.1 L606.8,306.8 L607.2,306.5 L607.8,306.2 L608.2,305.9 L608.8,305.5 L609.2,305.2 L609.8,304.9 L610.2,304.6 L610.8,304.3 L611.2,304.0 L611.8,303.7 L612.2,303.3 L612.8,303.0 L613.2,302.7 L613.8,302.4 L614.2,302.0 L614.8,301.7 L615.2,301.4 L615.8,301.1 L616.2,300.7 L616.8,300.4 L617.2,300.1 L617.8,299.7 L618.2,299.4 L618.8,299.1 L619.2,298.7 L619.8,298.4 L620.2,298.1 L620.8,297.7 L621.2,297.4 L621.8,297.0 L622.2,296.7 L622.8,296.3 L623.2,296.0 L623.8,295.6 L624.2,295.3 L624.8,294.9 L625.2,294.6 L625.8,294.2 L626.2,293.9 L626.8,293.5 L627.2,293.2 L627.8,292.8 L628.2,292.5 L628.8,292.1 L629.2,291.7 L629.8,291.4 L630.2,291.0 L630.8,290.6 L631.2,290.3 L631.8,289.9 L632.2,289.5 L632.8,289.2 L633.2,288.8 L633.8,288.4 L634.2,288.0 L634.8,287.7 L635.2,287.3 L635.8,286.9 L636.2,286.5 L636.8,286.2 L637.2,285.8 L637.8,285.4 L638.2,285.0 L638.8,284.6 L639.2,284.2 L639.8,283.8 L640.2,283.4 L640.8,283.1 L641.2,282.7 L641.8,282.3 L642.2,281.9 L642.8,281.5 L643.2,281.1 L643.8,280.7 L644.2,280.3 L644.8,279.9 L645.2,279.5 L645.8,279.1 L646.2,278.6 L646.8,278.2 L647.2,277.8 L647.8,277.4 L648.2,277.0 L648.8,276.6 L649.2,276.2 L649.8,275.8 L650.2,275.3 L650.8,274.9 L651.2,274.5 L651.8,274.1 L652.2,273.6 L652.8,273.2 L653.2,272.8 L653.8,272.4 L654.2,271.9 L654.8,271.5 L655.2,271.1 L655.8,270.6 L656.2,270.2 L656.8,269.8 L657.2,269.3 L657.8,268.9 L658.2,268.4 L658.8,268.0 L659.2,267.5 L659.8,267.1 L660.2,266.6 L660.8,266.2 L661.2,265.7 L661.8,265.3 L662.2,264.8 L662.8,264.4 L663.2,263.9 L663.8,263.5 L664.2,263.0 L664.8,262.5 L665.2,262.1 L665.8,261.6 L666.2,261.1 L666.8,260.7 L667.2,260.2 L667.8,259.7 L668.2,259.3 L668.8,258.8 L669.2,258.3 L669.8,257.8 L670.2,257.4 L670.8,256.9 L671.2,256.4 L671.8,255.9 L672.2,255.4 L672.8,254.9 L673.2,254.4 L673.8,254.0 L674.2,253.5 L674.8,253.0 L675.2,252.5 L675.8,252.0 L676.2,251.5 L676.8,251.0 L677.2,250.5 L677.8,250.0 L678.2,249.5 L678.8,249.0 L679.2,248.5 L679.8,248.0 L680.2,247.5 L680.8,247.0 L681.2,246.5 L681.8,246.0 L682.2,245.4 L682.8,244.9 L683.2,244.4 L683.8,243.9 L684.2,243.4 L684.8,242.9 L685.2,242.4 L685.8,241.8 L686.2,241.3 L686.8,240.8 L687.2,240.3 L687.8,239.7 L688.2,239.2 L688.8,238.7 L689.2,238.2 L689.8,237.6 L690.2,237.1 L690.8,236.6 L691.2,236.0 L691.8,235.5 L692.2,235.0 L692.8,234.4 L693.2,233.9 L693.8,233.3 L694.2,232.8 L694.8,232.3 L695.2,231.7 L695.8,231.2 L696.2,230.6 L696.8,230.1 L697.2,229.5 L697.8,229.0 L698.2,228.4 L698.8,227.9 L699.2,227.3 L699.8,226.8 L700.2,226.2 L700.8,225.7 L701.2,225.1 L701.8,224.5 L702.2,224.0 L702.8,223.4 L703.2,222.9 L703.8,222.3 L704.2,221.7" stroke="#d4a042" stroke-width="2.1" fill="none" stroke-linejoin="round" stroke-linecap="butt"/>
<g clip-path="url(#c)">
<path d="M82.4,258.3 L82.8,257.9 L83.2,257.4 L83.6,257.0 L84.0,256.5 L84.4,256.1 L84.8,255.6 L85.2,255.2 L85.6,254.7 L86.0,254.3 L86.4,253.8 L86.8,253.4 L87.2,252.9 L87.6,252.4 L88.0,252.0 L88.4,251.5 L88.8,251.1 L89.2,250.6 L89.6,250.1 L90.0,249.7 L90.4,249.2 L90.8,248.7 L91.2,248.2 L91.6,247.8 L92.0,247.3 L92.4,246.8 L92.8,246.3 L93.2,245.9 L93.6,245.4 L94.0,244.9 L94.4,244.4 L94.8,244.0 L95.2,243.5 L95.6,243.0 L96.0,242.5 L96.4,242.0 L96.8,241.5 L97.2,241.1 L97.6,240.6 L98.0,240.1 L98.4,239.6 L98.8,239.1 L99.2,238.6 L99.6,238.1 L100.0,237.6 L100.4,237.2 L100.8,236.7 L101.2,236.2 L101.6,235.7 L102.0,235.2 L102.4,234.7 L102.8,234.2 L103.2,233.7 L103.6,233.2 L104.0,232.7 L104.4,232.2 L104.8,231.7 L105.2,231.2 L105.6,230.7 L106.0,230.2 L106.4,229.7 L106.8,229.2 L107.2,228.7 L107.6,228.2 L108.0,227.7 L108.4,227.2 L108.8,226.7 L109.2,226.2 L109.6,225.7 L110.0,225.2 L110.4,224.7 L110.8,224.1 L111.2,223.6 L111.6,223.1 L112.0,222.6 L112.4,222.1 L112.8,221.6 L113.2,221.1 L113.6,220.6 L114.0,220.1 L114.4,219.6 L114.8,219.1 L115.2,218.6 L115.6,218.1 L116.0,217.5 L116.4,217.0 L116.8,216.5 L117.2,216.0 L117.6,215.5 L118.0,215.0 L118.4,214.5 L118.8,214.0 L119.2,213.5 L119.6,212.9 L120.0,212.4 L120.4,211.9 L120.8,211.4 L121.2,210.9 L121.6,210.4 L122.0,209.9 L122.4,209.4 L122.8,208.8 L123.2,208.3 L123.6,207.8 L124.0,207.3 L124.4,206.8 L124.8,206.3 L125.2,205.8 L125.6,205.3 L126.0,204.8 L126.4,204.2 L126.8,203.7 L127.2,203.2 L127.6,202.7 L128.0,202.2 L128.4,201.7 L128.8,201.2 L129.2,200.7 L129.6,200.2 L130.0,199.7 L130.4,199.1 L130.8,198.6 L131.2,198.1 L131.6,197.6 L132.0,197.1 L132.4,196.6 L132.8,196.1 L133.2,195.6 L133.6,195.1 L134.0,194.6 L134.4,194.1 L134.8,193.6 L135.2,193.0 L135.6,192.5 L136.0,192.0 L136.4,191.5 L136.8,191.0 L137.2,190.5 L137.6,190.0 L138.0,189.5 L138.4,189.0 L138.8,188.5 L139.2,188.0 L139.6,187.5 L140.0,187.0 L140.4,186.5 L140.8,186.0 L141.2,185.5 L141.6,185.0 L142.0,184.5 L142.4,184.0 L142.8,183.5 L143.2,183.0 L143.6,182.5 L144.0,182.0 L144.4,181.5 L144.8,181.0 L145.2,180.5 L145.6,180.0 L146.0,179.6 L146.4,179.1 L146.8,178.6 L147.2,178.1 L147.6,177.6 L148.0,177.1 L148.4,176.6 L148.8,176.1 L149.2,175.6 L149.6,175.2 L150.0,174.7 L150.4,174.2 L150.8,173.7 L151.2,173.2 L151.6,172.7 L152.0,172.3 L152.4,171.8 L152.8,171.3 L153.2,170.8 L153.6,170.3 L154.0,169.9 L154.4,169.4 L154.8,168.9 L155.2,168.4 L155.6,168.0 L156.0,167.5 L156.4,167.0 L156.8,166.5 L157.2,166.1 L157.6,165.6 L158.0,165.1 L158.4,164.7 L158.8,164.2 L159.2,163.7 L159.6,163.3 L160.0,162.8 L160.4,162.3 L160.8,161.9 L161.2,161.4 L161.6,160.9 L162.0,160.5 L162.4,160.0 L162.8,159.6 L163.2,159.1 L163.6,158.7 L164.0,158.2 L164.4,157.7 L164.8,157.3 L165.2,156.8 L165.6,156.4 L166.0,155.9 L166.4,155.5 L166.8,155.0 L167.2,154.6 L167.6,154.2 L168.0,153.7 L168.4,153.3 L168.8,152.8 L169.2,152.4 L169.6,151.9 L170.0,151.5 L170.4,151.1 L170.8,150.6 L171.2,150.2 L171.6,149.8 L172.0,149.3 L172.4,148.9 L172.8,148.5 L173.2,148.0 L173.6,147.6 L174.0,147.2 L174.4,146.8 L174.8,146.3 L175.2,145.9 L175.6,145.5 L176.0,145.1 L176.4,144.6 L176.8,144.2 L177.2,143.8 L177.6,143.4 L178.0,143.0 L178.4,142.6 L178.8,142.2 L179.2,141.8 L179.6,141.3 L180.0,140.9 L180.4,140.5 L180.8,140.1 L181.2,139.7 L181.6,139.3 L182.0,138.9 L182.4,138.5 L182.8,138.1 L183.2,137.7 L183.6,137.3 L184.0,136.9 L184.4,136.5 L184.8,136.1 L185.2,135.8 L185.6,135.4 L186.0,135.0 L186.4,134.6 L186.8,134.2 L187.2,133.8 L187.6,133.4 L188.0,133.1 L188.4,132.7 L188.8,132.3 L189.2,131.9 L189.6,131.6 L190.0,131.2 L190.4,130.8 L190.8,130.4 L191.2,130.1 L191.6,129.7 L192.0,129.3 L192.4,129.0 L192.8,128.6 L193.2,128.3 L193.6,127.9 L194.0,127.5 L194.4,127.2 L194.8,126.8 L195.2,126.5 L195.6,126.1 L196.0,125.8 L196.4,125.4 L196.8,125.1 L197.2,124.7 L197.6,124.4 L198.0,124.0 L198.4,123.7 L198.8,123.4 L199.2,123.0 L199.6,122.7 L200.0,122.3 L200.4,122.0 L200.8,121.7 L201.2,121.3 L201.6,121.0 L202.0,120.7 L202.4,120.4 L202.8,120.0 L203.2,119.7 L203.6,119.4 L204.0,119.1 L204.4,118.8 L204.8,118.4 L205.2,118.1 L205.6,117.8 L206.0,117.5 L206.4,117.2 L206.8,116.9 L207.2,116.6 L207.6,116.3 L208.0,116.0 L208.4,115.7 L208.8,115.4 L209.2,115.1 L209.6,114.8 L210.0,114.5 L210.4,114.2 L210.8,113.9 L211.2,113.6 L211.6,113.3 L212.0,113.0 L212.4,112.7 L212.8,112.5 L213.2,112.2 L213.6,111.9 L214.0,111.6 L214.4,111.3 L214.8,111.1 L215.2,110.8 L215.6,110.5 L216.0,110.3 L216.4,110.0 L216.8,109.7 L217.2,109.5 L217.6,109.2 L218.0,108.9 L218.4,108.7 L218.8,108.4 L219.2,108.2 L219.6,107.9 L220.0,107.6 L220.4,107.4 L220.8,107.1 L221.2,106.9 L221.6,106.7 L222.0,106.4 L222.4,106.2 L222.8,105.9 L223.2,105.7 L223.6,105.4 L224.0,105.2 L224.4,105.0 L224.8,104.7 L225.2,104.5 L225.6,104.3 L226.0,104.1 L226.4,103.8 L226.8,103.6 L227.2,103.4 L227.6,103.2 L228.0,102.9 L228.4,102.7 L228.8,102.5 L229.2,102.3 L229.6,102.1 L230.0,101.9 L230.4,101.6 L230.8,101.4 L231.2,101.2 L231.6,101.0 L232.0,100.9 L232.4,100.7 L232.8,100.5 L233.2,100.3 L233.6,100.1 L234.0,100.0 L234.4,99.8 L234.8,99.6 L235.2,99.5 L235.6,99.3 L236.0,99.2 L236.4,99.0 L236.8,98.9 L237.2,98.7 L237.6,98.6 L238.0,98.4 L238.4,98.3 L238.8,98.1 L239.2,98.0 L239.6,97.8 L240.0,97.7 L240.4,97.5 L240.8,97.4 L241.2,97.3 L241.6,97.1 L242.0,97.0 L242.4,96.8 L242.8,96.7 L243.2,96.5 L243.6,96.3 L244.0,96.1 L244.4,96.0 L244.8,95.8 L245.2,95.6 L245.6,95.4 L246.0,95.2 L246.4,95.0 L246.8,94.8 L247.2,94.7 L247.6,94.5 L248.0,94.4 L248.4,94.3 L248.8,94.2 L249.2,94.2 L249.6,94.2 L250.0,94.2 L250.4,94.2 L250.8,94.3 L251.2,94.3 L251.6,94.4 L252.0,94.5 L252.4,94.5 L252.8,94.6 L253.2,94.7 L253.6,94.7 L254.0,94.8 L254.4,94.8 L254.8,94.9 L255.2,94.9 L255.6,94.9 L256.0,94.8 L256.4,94.7 L256.8,94.5 L257.2,94.2 L257.6,94.0 L258.0,93.7 L258.4,93.4 L258.8,93.1 L259.2,92.8 L259.6,92.6 L260.0,92.4 L260.4,92.2 L260.8,92.2 L261.2,92.2 L261.6,92.3 L262.0,92.4 L262.4,92.5 L262.8,92.7 L263.2,92.9 L263.6,93.0 L264.0,93.2 L264.4,93.3 L264.8,93.4 L265.2,93.4 L265.6,93.4 L266.0,93.3 L266.4,93.3 L266.8,93.2 L267.2,93.1 L267.6,92.9 L268.0,92.8 L268.4,92.6 L268.8,92.4 L269.2,92.3 L269.6,92.1 L270.0,91.9 L270.4,91.7 L270.8,91.6 L271.2,91.4 L271.6,91.3 L272.0,91.1 L272.4,91.0 L272.8,91.0 L273.2,90.9 L273.6,90.9 L274.0,90.9 L274.4,91.0 L274.8,91.1 L275.2,91.3 L275.6,91.5 L276.0,91.7 L276.4,91.9 L276.8,92.1 L277.2,92.4 L277.6,92.6 L278.0,92.9 L278.4,93.1 L278.8,93.3 L279.2,93.4 L279.6,93.6 L280.0,93.7 L280.4,93.7 L280.8,93.7 L281.2,93.7 L281.6,93.6 L282.0,93.5 L282.4,93.4 L282.8,93.3 L283.2,93.2 L283.6,93.2 L284.0,93.1 L284.4,93.0 L284.8,93.0 L285.2,93.0 L285.6,93.0 L286.0,93.1 L286.4,93.1 L286.8,93.2 L287.2,93.2 L287.6,93.3 L288.0,93.4 L288.4,93.4 L288.8,93.5 L289.2,93.5 L289.6,93.6 L290.0,93.6 L290.4,93.7 L290.8,93.7 L291.2,93.7 L291.6,93.7 L292.0,93.7 L292.4,93.7 L292.8,93.7 L293.2,93.7 L293.6,93.7 L294.0,93.7 L294.4,93.7 L294.8,93.7 L295.2,93.7 L295.6,93.7 L296.0,93.7 L296.4,93.7 L296.8,93.7 L297.2,93.7 L297.6,93.7 L298.0,93.7 L298.4,93.8 L298.8,93.9 L299.2,94.1 L299.6,94.3 L300.0,94.5 L300.4,94.7 L300.8,95.0 L301.2,95.3 L301.6,95.6 L302.0,95.9 L302.4,96.1 L302.8,96.3 L303.2,96.5 L303.6,96.7 L304.0,96.8 L304.4,96.9 L304.8,96.9 L305.2,96.9 L305.6,96.9 L306.0,96.8 L306.4,96.8 L306.8,96.7 L307.2,96.7 L307.6,96.6 L308.0,96.5 L308.4,96.4 L308.8,96.4 L309.2,96.3 L309.6,96.2 L310.0,96.2 L310.4,96.1 L310.8,96.1 L311.2,96.0 L311.6,96.0 L312.0,96.0 L312.4,96.0 L312.8,96.1 L313.2,96.2 L313.6,96.3 L314.0,96.5 L314.4,96.7 L314.8,97.0 L315.2,97.2 L315.6,97.4 L316.0,97.7 L316.4,97.9 L316.8,98.1 L317.2,98.2 L317.6,98.3 L318.0,98.4 L318.4,98.4 L318.8,98.4 L319.2,98.4 L319.6,98.3 L320.0,98.3 L320.4,98.3 L320.8,98.2 L321.2,98.2 L321.6,98.1 L322.0,98.0 L322.4,98.0 L322.8,97.9 L323.2,97.9 L323.6,97.9 L324.0,97.8 L324.4,97.8 L324.8,97.8 L325.2,97.8 L325.6,97.8 L326.0,97.9 L326.4,98.0 L326.8,98.1 L327.2,98.3 L327.6,98.5 L328.0,98.6 L328.4,98.8 L328.8,99.0 L329.2,99.2 L329.6,99.4 L330.0,99.6 L330.4,99.8 L330.8,99.9 L331.2,100.1 L331.6,100.2 L332.0,100.2 L332.4,100.3 L332.8,100.4 L333.2,100.5 L333.6,100.5 L334.0,100.6 L334.4,100.7 L334.8,100.7 L335.2,100.7 L335.6,100.7 L336.0,100.7 L336.4,100.6 L336.8,100.6 L337.2,100.6 L337.6,100.5 L338.0,100.4 L338.4,100.4 L338.8,100.3 L339.2,100.3 L339.6,100.2 L340.0,100.2 L340.4,100.2 L340.8,100.2 L341.2,100.3 L341.6,100.4 L342.0,100.5 L342.4,100.7 L342.8,100.9 L343.2,101.2 L343.6,101.4 L344.0,101.7 L344.4,102.0 L344.8,102.3 L345.2,102.6 L345.6,102.9 L346.0,103.1 L346.4,103.4 L346.8,103.6 L347.2,103.9 L347.6,104.2 L348.0,104.5 L348.4,104.8 L348.8,105.1 L349.2,105.4 L349.6,105.7 L350.0,105.9 L350.4,106.2 L350.8,106.4 L351.2,106.5 L351.6,106.6 L352.0,106.7 L352.4,106.8 L352.8,106.8 L353.2,106.8 L353.6,106.9 L354.0,106.9 L354.4,106.9 L354.8,107.0 L355.2,107.0 L355.6,107.0 L356.0,107.0 L356.4,107.0 L356.8,107.0 L357.2,106.9 L357.6,106.8 L358.0,106.7 L358.4,106.6 L358.8,106.5 L359.2,106.4 L359.6,106.3 L360.0,106.3 L360.4,106.3 L360.8,106.3 L361.2,106.4 L361.6,106.5 L362.0,106.7 L362.4,106.9 L362.8,107.1 L363.2,107.3 L363.6,107.5 L364.0,107.7 L364.4,107.9 L364.8,108.1 L365.2,108.3 L365.6,108.5 L366.0,108.7 L366.4,108.8 L366.8,109.0 L367.2,109.1 L367.6,109.2 L368.0,109.4 L368.4,109.5 L368.8,109.6 L369.2,109.7 L369.6,109.9 L370.0,110.0 L370.4,110.1 L370.8,110.2 L371.2,110.3 L371.6,110.4 L372.0,110.5 L372.4,110.6 L372.8,110.7 L373.2,110.8 L373.6,110.9 L374.0,111.0 L374.4,111.1 L374.8,111.2 L375.2,111.3 L375.6,111.4 L376.0,111.5 L376.4,111.5 L376.8,111.6 L377.2,111.7 L377.6,111.8 L378.0,111.9 L378.4,111.9 L378.8,112.0 L379.2,112.1 L379.6,112.1 L380.0,112.2 L380.4,112.2 L380.8,112.3 L381.2,112.3 L381.6,112.3 L382.0,112.3 L382.4,112.4 L382.8,112.4 L383.2,112.4 L383.6,112.4 L384.0,112.5 L384.4,112.5 L384.8,112.5 L385.2,112.5 L385.6,112.5 L386.0,112.5 L386.4,112.6 L386.8,112.6 L387.2,112.6 L387.6,112.6 L388.0,112.6 L388.4,112.6 L388.8,112.6 L389.2,112.6 L389.6,112.6 L390.0,112.5 L390.4,112.4 L390.8,112.3 L391.2,112.2 L391.6,112.1 L392.0,112.0 L392.4,111.9 L392.8,111.8 L393.2,111.7 L393.6,111.6 L394.0,111.6 L394.4,111.6 L394.8,111.7 L395.2,111.8 L395.6,111.9 L396.0,112.1 L396.4,112.3 L396.8,112.5 L397.2,112.7 L397.6,112.8 L398.0,113.0 L398.4,113.1 L398.8,113.1 L399.2,113.1 L399.6,113.0 L400.0,113.0 L400.4,112.9 L400.8,112.8 L401.2,112.7 L401.6,112.7 L402.0,112.6 L402.4,112.5 L402.8,112.4 L403.2,112.4 L403.6,112.3 L404.0,112.3 L404.4,112.3 L404.8,112.4 L405.2,112.5 L405.6,112.7 L406.0,112.9 L406.4,113.1 L406.8,113.3 L407.2,113.6 L407.6,113.8 L408.0,114.1 L408.4,114.3 L408.8,114.6 L409.2,114.9 L409.6,115.1 L410.0,115.3 L410.4,115.5 L410.8,115.6 L411.2,115.7 L411.6,115.8 L412.0,115.8 L412.4,115.9 L412.8,115.9 L413.2,115.9 L413.6,115.9 L414.0,116.0 L414.4,116.0 L414.8,116.0 L415.2,116.0 L415.6,116.1 L416.0,116.1 L416.4,116.1 L416.8,116.3 L417.2,116.4 L417.6,116.6 L418.0,116.8 L418.4,117.0 L418.8,117.3 L419.2,117.5 L419.6,117.8 L420.0,118.0 L420.4,118.2 L420.8,118.4 L421.2,118.5 L421.6,118.6 L422.0,118.7 L422.4,118.7 L422.8,118.7 L423.2,118.6 L423.6,118.5 L424.0,118.4 L424.4,118.2 L424.8,118.1 L425.2,117.9 L425.6,117.8 L426.0,117.6 L426.4,117.4 L426.8,117.2 L427.2,117.1 L427.6,116.9 L428.0,116.8 L428.4,116.7 L428.8,116.6 L429.2,116.5 L429.6,116.5 L430.0,116.5 L430.4,116.6 L430.8,116.7 L431.2,116.8 L431.6,116.9 L432.0,117.1 L432.4,117.3 L432.8,117.5 L433.2,117.7 L433.6,117.9 L434.0,118.1 L434.4,118.3 L434.8,118.4 L435.2,118.6 L435.6,118.7 L436.0,118.8 L436.4,118.8 L436.8,118.8 L437.2,118.7 L437.6,118.7 L438.0,118.6 L438.4,118.4 L438.8,118.3 L439.2,118.1 L439.6,118.0 L440.0,117.8 L440.4,117.6 L440.8,117.4 L441.2,117.1 L441.6,116.9 L442.0,116.7 L442.4,116.5 L442.8,116.3 L443.2,116.2 L443.6,116.0 L444.0,115.8 L444.4,115.7 L444.8,115.6 L445.2,115.5 L445.6,115.5 L446.0,115.4 L446.4,115.3 L446.8,115.3 L447.2,115.2 L447.6,115.2 L448.0,115.1 L448.4,115.1 L448.8,115.0 L449.2,115.0 L449.6,114.9 L450.0,114.9 L450.4,114.8 L450.8,114.8 L451.2,114.7 L451.6,114.7 L452.0,114.6 L452.4,114.6 L452.8,114.5 L453.2,114.4 L453.6,114.4 L454.0,114.3 L454.4,114.3 L454.8,114.2 L455.2,114.1 L455.6,114.0 L456.0,114.0 L456.4,113.9 L456.8,113.7 L457.2,113.5 L457.6,113.2 L458.0,112.9 L458.4,112.4 L458.8,112.0 L459.2,111.5 L459.6,111.0 L460.0,110.5 L460.4,110.0 L460.8,109.6 L461.2,109.2 L461.6,108.9 L462.0,108.7 L462.4,108.5 L462.8,108.5 L463.2,108.6 L463.6,108.8 L464.0,109.0 L464.4,109.3 L464.8,109.5 L465.2,109.8 L465.6,110.1 L466.0,110.4 L466.4,110.8 L466.8,111.1 L467.2,111.5 L467.6,111.8 L468.0,112.2 L468.4,112.4 L468.8,112.7 L469.2,112.9 L469.6,113.1 L470.0,113.3 L470.4,113.5 L470.8,113.7 L471.2,113.8 L471.6,114.0 L472.0,114.1 L472.4,114.1 L472.8,114.1 L473.2,113.9 L473.6,113.7 L474.0,113.4 L474.4,113.1 L474.8,112.7 L475.2,112.3 L475.6,111.9 L476.0,111.5 L476.4,111.0 L476.8,110.7 L477.2,110.3 L477.6,109.9 L478.0,109.5 L478.4,109.1 L478.8,108.6 L479.2,108.2 L479.6,107.8 L480.0,107.6 L480.4,107.4 L480.8,107.3 L481.2,107.3 L481.6,107.4 L482.0,107.4 L482.4,107.5 L482.8,107.7 L483.2,107.8 L483.6,107.9 L484.0,108.1 L484.4,108.2 L484.8,108.3 L485.2,108.5 L485.6,108.6 L486.0,108.6 L486.4,108.7 L486.8,108.7 L487.2,108.7 L487.6,108.7 L488.0,108.6 L488.4,108.6 L488.8,108.5 L489.2,108.5 L489.6,108.4 L490.0,108.4 L490.4,108.3 L490.8,108.2 L491.2,108.1 L491.6,108.1 L492.0,108.0 L492.4,108.0 L492.8,107.9 L493.2,107.9 L493.6,107.8 L494.0,107.8 L494.4,107.8 L494.8,107.8 L495.2,107.9 L495.6,108.1 L496.0,108.2 L496.4,108.4 L496.8,108.7 L497.2,109.0 L497.6,109.3 L498.0,109.6 L498.4,109.9 L498.8,110.2 L499.2,110.5 L499.6,110.7 L500.0,111.0 L500.4,111.4 L500.8,111.8 L501.2,112.0 L501.6,112.0 L502.0,112.0 L502.4,112.0 L502.8,111.9 L503.2,111.9 L503.6,111.8 L504.0,111.8 L504.4,111.7 L504.8,111.7 L505.2,111.6 L505.6,111.6 L506.0,111.6 L506.4,111.6 L506.8,111.7 L507.2,111.9 L507.6,112.2 L508.0,112.5 L508.4,112.9 L508.8,113.3 L509.2,113.7 L509.6,114.1 L510.0,114.5 L510.4,114.7 L510.8,115.0 L511.2,115.1 L511.6,115.1 L512.0,115.1 L512.4,115.1 L512.8,115.0 L513.2,115.0 L513.6,115.0 L514.0,114.9 L514.4,114.9 L514.8,114.9 L515.2,114.9 L515.6,115.1 L516.0,115.6 L516.4,116.3 L516.8,117.3 L517.2,118.3 L517.6,119.4 L518.0,120.5 L518.4,121.5 L518.8,122.5 L519.2,123.7 L519.6,124.9 L520.0,126.1 L520.4,127.2 L520.8,128.3 L521.2,129.2 L521.6,129.8 L522.0,130.4 L522.4,130.8 L522.8,131.1 L523.2,131.4 L523.6,131.8 L524.0,132.1 L524.4,132.4 L524.8,132.8 L525.2,133.4 L525.6,134.0 L526.0,134.9 L526.4,136.0 L526.8,137.2 L527.2,138.4 L527.6,139.8 L528.0,141.1 L528.4,142.3 L528.8,143.5 L529.2,144.4 L529.6,145.4 L530.0,146.3 L530.4,147.3 L530.8,148.2 L531.2,149.0 L531.6,149.7 L532.0,150.3 L532.4,150.7 L532.8,151.0 L533.2,151.4 L533.6,151.6 L534.0,151.9 L534.4,152.1 L534.8,152.4 L535.2,152.6 L535.6,152.8 L536.0,152.9 L536.4,153.1 L536.8,153.2 L537.2,153.4 L537.6,153.6 L538.0,153.7 L538.4,153.9 L538.8,154.0 L539.2,154.2 L539.6,154.4 L540.0,154.5 L540.4,154.7 L540.8,155.0 L541.2,155.2 L541.6,155.5 L542.0,155.8 L542.4,156.1 L542.8,156.5 L543.2,156.9 L543.6,157.4 L544.0,157.8 L544.4,158.3 L544.8,158.8 L545.2,159.2 L545.6,159.6 L546.0,159.9 L546.4,160.2 L546.8,160.4 L547.2,160.6 L547.6,160.7 L548.0,160.9 L548.4,161.0 L548.8,161.2 L549.2,161.3 L549.6,161.4 L550.0,161.6 L550.4,161.7 L550.8,161.9 L551.2,162.1 L551.6,162.3 L552.0,162.6 L552.4,162.9 L552.8,163.4 L553.2,164.0 L553.6,164.6 L554.0,165.3 L554.4,166.1 L554.8,166.9 L555.2,167.7 L555.6,168.6 L556.0,169.7 L556.4,170.9 L556.8,172.2 L557.2,173.6 L557.6,175.0 L558.0,176.4 L558.4,177.8 L558.8,179.2 L559.2,180.8 L559.6,182.4 L560.0,184.0 L560.4,185.5 L560.8,187.0 L561.2,188.3 L561.6,189.5 L562.0,190.6 L562.4,191.8 L562.8,192.9 L563.2,194.0 L563.6,194.9 L564.0,195.6 L564.4,196.0 L564.8,196.1 L565.2,196.0 L565.6,195.9 L566.0,195.7 L566.4,195.5 L566.8,195.3 L567.2,195.0 L567.6,194.8 L568.0,194.5 L568.4,194.3 L568.8,194.1 L569.2,194.0 L569.6,193.8 L570.0,193.7 L570.4,193.5 L570.8,193.4 L571.2,193.3 L571.6,193.2 L572.0,193.0 L572.4,192.9 L572.8,192.8 L573.2,192.8 L573.6,192.7 L574.0,192.7 L574.4,192.7 L574.8,192.8 L575.2,192.9 L575.6,193.0 L576.0,193.2 L576.4,193.4 L576.8,193.6 L577.2,193.9 L577.6,194.2 L578.0,194.5 L578.4,194.8 L578.8,195.2 L579.2,195.5 L579.6,195.9 L580.0,196.4 L580.4,197.0 L580.8,197.6 L581.2,198.3 L581.6,199.0 L582.0,199.8 L582.4,200.6 L582.8,201.5 L583.2,202.6 L583.6,203.7 L584.0,204.8 L584.4,205.9 L584.8,206.7 L585.2,207.4 L585.6,208.1 L586.0,208.7 L586.4,209.3 L586.8,209.8 L587.2,210.3 L587.6,210.6 L588.0,210.7 L588.4,210.7 L588.8,210.7 L589.2,210.6 L589.6,210.5 L590.0,210.4 L590.4,210.3 L590.8,210.2 L591.2,210.1 L591.6,210.0 L592.0,209.8 L592.4,209.7 L592.8,209.6 L593.2,209.5 L593.6,209.5 L594.0,209.4 L594.4,209.4 L594.8,209.5 L595.2,209.7 L595.6,210.2 L596.0,210.8 L596.4,211.6 L596.8,212.4 L597.2,213.3 L597.6,214.3 L598.0,215.3 L598.4,216.6 L598.8,218.2 L599.2,220.0 L599.6,222.0 L600.0,224.0 L600.4,226.1 L600.8,228.3 L601.2,230.9 L601.6,233.5 L602.0,236.0 L602.4,238.2 L602.8,240.3 L603.2,242.4 L603.6,244.4 L604.0,246.6 L604.4,248.8 L604.8,250.8 L605.2,252.4 L605.6,253.6 L606.0,254.7 L606.4,255.7 L606.8,256.6 L607.2,257.3 L607.6,257.8 L608.0,258.2 L608.4,258.5 L608.8,258.8 L609.2,259.0 L609.6,259.2 L610.0,259.2 L610.4,259.1 L610.8,258.9 L611.2,258.5 L611.6,258.1 L612.0,257.5 L612.4,256.9 L612.8,256.2 L613.2,254.6 L613.6,253.2 L614.0,252.4 L614.4,251.7 L614.8,251.4 L615.2,251.4 L615.6,252.0 L616.0,252.9 L616.4,254.1 L616.8,255.9 L617.2,258.3 L617.6,260.9 L618.0,263.0 L618.4,265.1 L618.8,267.0 L619.2,268.5 L619.6,269.7 L620.0,270.7 L620.4,271.6 L620.8,272.3 L621.2,272.8 L621.6,273.3 L622.0,273.7 L622.4,274.0 L622.8,274.1 L623.2,274.0 L623.6,273.8 L624.0,273.4 L624.4,272.9 L624.8,272.3 L625.2,271.7 L625.6,271.1 L626.0,270.3 L626.4,269.4 L626.8,268.3 L627.2,267.1 L627.6,265.7 L628.0,263.6 L628.4,260.7 L628.8,257.7 L629.2,255.1 L629.6,252.4 L630.0,250.0 L630.4,248.1 L630.8,246.8 L631.2,245.8 L631.6,245.0 L632.0,244.3 L632.4,243.6 L632.8,243.1 L633.2,243.0 L633.6,243.2 L634.0,243.7 L634.4,244.3 L634.8,245.0 L635.2,245.6 L635.6,246.3 L636.0,247.2 L636.4,248.5 L636.8,250.8 L637.2,257.7" stroke="#111" stroke-width="1.75" fill="none" stroke-linejoin="round" stroke-dasharray="6.8 2.7"/>
<path d="M637.2,257.7 L637.6,263.1 L638.0,266.6 L638.4,267.8 L638.8,268.5 L639.2,268.4 L639.6,268.2 L640.0,267.9 L640.4,267.5 L640.8,267.0 L641.2,266.5 L641.6,266.1 L642.0,265.7 L642.4,265.3 L642.8,264.8 L643.2,264.3 L643.6,263.7 L644.0,263.0 L644.4,261.7 L644.8,260.3 L645.2,259.2 L645.6,258.4 L646.0,257.8 L646.4,257.2 L646.8,256.5 L647.2,255.8 L647.6,255.0 L648.0,254.0 L648.4,253.0 L648.8,251.6 L649.2,249.9 L649.6,248.3 L650.0,247.5 L650.4,247.1 L650.8,246.7 L651.2,246.4 L651.6,246.2 L652.0,246.0 L652.4,245.8 L652.8,245.6 L653.2,245.3 L653.6,245.1 L654.0,244.8 L654.4,244.6 L654.8,244.5 L655.2,244.4 L655.6,244.4 L656.0,244.6 L656.4,244.8 L656.8,245.1 L657.2,245.4 L657.6,245.9 L658.0,246.4 L658.4,246.9 L658.8,247.4 L659.2,248.0 L659.6,248.5 L660.0,249.1 L660.4,249.7 L660.8,250.2 L661.2,250.7 L661.6,251.1 L662.0,251.6 L662.4,252.1 L662.8,252.6 L663.2,253.2 L663.6,253.8 L664.0,254.3 L664.4,254.9 L664.8,255.4 L665.2,256.0 L665.6,256.4 L666.0,256.8 L666.4,257.2 L666.8,257.5 L667.2,257.7 L667.6,257.8 L668.0,257.8 L668.4,257.6 L668.8,257.3 L669.2,256.9 L669.6,256.5 L670.0,256.1 L670.4,255.8 L670.8,255.6 L671.2,255.5 L671.6,255.6 L672.0,255.7" stroke="#111" stroke-width="1.75" fill="none" stroke-linejoin="round"/>
<path d="M673.6,256.7 L674.0,257.0 L674.4,257.2 L674.8,257.5 L675.2,257.7 L675.6,258.0 L676.0,258.3 L676.4,258.6 L676.8,258.9 L677.2,259.3 L677.6,259.7 L678.0,260.1 L678.4,260.6 L678.8,261.1 L679.2,261.7 L679.6,262.4 L680.0,263.1 L680.4,263.9 L680.8,265.0 L681.2,266.4 L681.6,267.8 L682.0,269.0 L682.4,269.7 L682.8,270.0 L683.2,270.5 L683.6,271.2 L684.0,272.2 L684.4,273.5 L684.8,275.3 L685.2,277.5 L685.6,280.5 L686.0,287.1 L686.4,291.3 L686.8,294.6 L687.2,297.3 L687.6,299.9 L688.0,302.5 L688.4,305.4 L688.8,308.6 L689.2,312.0 L689.6,315.4 L690.0,319.0 L690.4,322.8 L690.8,326.7 L691.2,330.4 L691.6,333.8 L692.0,337.1 L692.4,340.3 L692.8,343.4 L693.2,346.5 L693.6,349.6 L694.0,352.6 L694.4,355.6 L694.8,358.5 L695.2,361.3 L695.6,364.0 L696.0,366.7 L696.4,369.3 L696.8,371.8 L697.2,374.3 L697.6,376.7 L698.0,379.1 L698.4,381.4 L698.8,383.5 L699.2,385.4 L699.6,387.0 L700.0,388.6 L700.4,390.3 L700.8,392.3 L701.2,394.9 L701.6,399.0" stroke="#111" stroke-width="1.75" fill="none" stroke-linejoin="round" stroke-dasharray="6.8 2.7"/>
<path d="M82.4,258.3 L82.8,257.9 L83.2,257.4 L83.6,257.0 L84.0,256.5 L84.4,256.1 L84.8,255.6 L85.2,255.2 L85.6,254.7 L86.0,254.3 L86.4,253.8 L86.8,253.4 L87.2,252.9 L87.6,252.4 L88.0,252.0 L88.4,251.5 L88.8,251.1 L89.2,250.6 L89.6,250.1 L90.0,249.7 L90.4,249.2 L90.8,248.7 L91.2,248.2 L91.6,247.8 L92.0,247.3 L92.4,246.8 L92.8,246.3 L93.2,245.9 L93.6,245.4 L94.0,244.9 L94.4,244.4 L94.8,244.0 L95.2,243.5 L95.6,243.0 L96.0,242.5 L96.4,242.0 L96.8,241.5 L97.2,241.1 L97.6,240.6 L98.0,240.1 L98.4,239.6 L98.8,239.1 L99.2,238.6 L99.6,238.1 L100.0,237.6 L100.4,237.2 L100.8,236.7 L101.2,236.2 L101.6,235.7 L102.0,235.2 L102.4,234.7 L102.8,234.2 L103.2,233.7 L103.6,233.2 L104.0,232.7 L104.4,232.2 L104.8,231.7 L105.2,231.2 L105.6,230.7 L106.0,230.2 L106.4,229.7 L106.8,229.2 L107.2,228.7 L107.6,228.2 L108.0,227.7 L108.4,227.2 L108.8,226.7 L109.2,226.2 L109.6,225.7 L110.0,225.2 L110.4,224.7 L110.8,224.1 L111.2,223.6 L111.6,223.1 L112.0,222.6 L112.4,222.1 L112.8,221.6 L113.2,221.1 L113.6,220.6 L114.0,220.1 L114.4,219.6 L114.8,219.1 L115.2,218.6 L115.6,218.1 L116.0,217.5 L116.4,217.0 L116.8,216.5 L117.2,216.0 L117.6,215.5 L118.0,215.0 L118.4,214.5 L118.8,214.0 L119.2,213.5 L119.6,212.9 L120.0,212.4 L120.4,211.9 L120.8,211.4 L121.2,210.9 L121.6,210.4 L122.0,209.9 L122.4,209.4 L122.8,208.8 L123.2,208.3 L123.6,207.8 L124.0,207.3 L124.4,206.8 L124.8,206.3 L125.2,205.8 L125.6,205.3 L126.0,204.8 L126.4,204.2 L126.8,203.7 L127.2,203.2 L127.6,202.7 L128.0,202.2 L128.4,201.7 L128.8,201.2 L129.2,200.7 L129.6,200.2 L130.0,199.7 L130.4,199.1 L130.8,198.6 L131.2,198.1 L131.6,197.6 L132.0,197.1 L132.4,196.6 L132.8,196.1 L133.2,195.6 L133.6,195.1 L134.0,194.6 L134.4,194.1 L134.8,193.6 L135.2,193.0 L135.6,192.5 L136.0,192.0 L136.4,191.5 L136.8,191.0 L137.2,190.5 L137.6,190.0 L138.0,189.5 L138.4,189.0 L138.8,188.5 L139.2,188.0 L139.6,187.5 L140.0,187.0 L140.4,186.5 L140.8,186.0 L141.2,185.5 L141.6,185.0 L142.0,184.5 L142.4,184.0 L142.8,183.5 L143.2,183.0 L143.6,182.5 L144.0,182.0 L144.4,181.5 L144.8,181.0 L145.2,180.5 L145.6,180.0 L146.0,179.6 L146.4,179.1 L146.8,178.6 L147.2,178.1 L147.6,177.6 L148.0,177.1 L148.4,176.6 L148.8,176.1 L149.2,175.6 L149.6,175.2 L150.0,174.7 L150.4,174.2 L150.8,173.7 L151.2,173.2 L151.6,172.7 L152.0,172.3 L152.4,171.8 L152.8,171.3 L153.2,170.8 L153.6,170.3 L154.0,169.9 L154.4,169.4 L154.8,168.9 L155.2,168.4 L155.6,168.0 L156.0,167.5 L156.4,167.0 L156.8,166.5 L157.2,166.1 L157.6,165.6 L158.0,165.1 L158.4,164.7 L158.8,164.2 L159.2,163.7 L159.6,163.3 L160.0,162.8 L160.4,162.3 L160.8,161.9 L161.2,161.4 L161.6,160.9 L162.0,160.5 L162.4,160.0 L162.8,159.6 L163.2,159.1 L163.6,158.7 L164.0,158.2 L164.4,157.7 L164.8,157.3 L165.2,156.8 L165.6,156.4 L166.0,155.9 L166.4,155.5 L166.8,155.0 L167.2,154.6 L167.6,154.2 L168.0,153.7 L168.4,153.3 L168.8,152.8 L169.2,152.4 L169.6,151.9 L170.0,151.5 L170.4,151.1 L170.8,150.6 L171.2,150.2 L171.6,149.8 L172.0,149.3 L172.4,148.9 L172.8,148.5 L173.2,148.0 L173.6,147.6 L174.0,147.2 L174.4,146.8 L174.8,146.3 L175.2,145.9 L175.6,145.5 L176.0,145.1 L176.4,144.6 L176.8,144.2 L177.2,143.8 L177.6,143.4 L178.0,143.0 L178.4,142.6 L178.8,142.2 L179.2,141.8 L179.6,141.3 L180.0,140.9 L180.4,140.5 L180.8,140.1 L181.2,139.7 L181.6,139.3 L182.0,138.9 L182.4,138.5 L182.8,138.1 L183.2,137.7 L183.6,137.3 L184.0,136.9 L184.4,136.5 L184.8,136.1 L185.2,135.8 L185.6,135.4 L186.0,135.0 L186.4,134.6 L186.8,134.2 L187.2,133.8 L187.6,133.4 L188.0,133.1 L188.4,132.7 L188.8,132.3 L189.2,131.9 L189.6,131.6 L190.0,131.2 L190.4,130.8 L190.8,130.4 L191.2,130.1 L191.6,129.7 L192.0,129.3 L192.4,129.0 L192.8,128.6 L193.2,128.3 L193.6,127.9 L194.0,127.5 L194.4,127.2 L194.8,126.8 L195.2,126.5 L195.6,126.1 L196.0,125.8 L196.4,125.4 L196.8,125.1 L197.2,124.7 L197.6,124.4 L198.0,124.0 L198.4,123.7 L198.8,123.4 L199.2,123.0 L199.6,122.7 L200.0,122.3 L200.4,122.0 L200.8,121.7 L201.2,121.3 L201.6,121.0 L202.0,120.7 L202.4,120.4 L202.8,120.0 L203.2,119.7 L203.6,119.4 L204.0,119.1 L204.4,118.8 L204.8,118.4 L205.2,118.1 L205.6,117.8 L206.0,117.5 L206.4,117.2 L206.8,116.9 L207.2,116.6 L207.6,116.3 L208.0,116.0 L208.4,115.7 L208.8,115.4 L209.2,115.1 L209.6,114.8 L210.0,114.5 L210.4,114.2 L210.8,113.9 L211.2,113.6 L211.6,113.3 L212.0,113.0 L212.4,112.7 L212.8,112.5 L213.2,112.2 L213.6,111.9 L214.0,111.6 L214.4,111.3 L214.8,111.1 L215.2,110.8 L215.6,110.5 L216.0,110.3 L216.4,110.0 L216.8,109.7 L217.2,109.5 L217.6,109.2 L218.0,108.9 L218.4,108.7 L218.8,108.4 L219.2,108.2 L219.6,107.9 L220.0,107.6 L220.4,107.4 L220.8,107.1 L221.2,106.9 L221.6,106.7 L222.0,106.4 L222.4,106.2 L222.8,105.9 L223.2,105.7 L223.6,105.4 L224.0,105.2 L224.4,105.0 L224.8,104.7 L225.2,104.5 L225.6,104.3 L226.0,104.1 L226.4,103.8 L226.8,103.6 L227.2,103.4 L227.6,103.2 L228.0,102.9 L228.4,102.7 L228.8,102.5 L229.2,102.3 L229.6,102.1 L230.0,101.9 L230.4,101.6 L230.8,101.4 L231.2,101.2 L231.6,101.0 L232.0,100.9 L232.4,100.7 L232.8,100.5 L233.2,100.3 L233.6,100.1 L234.0,100.0 L234.4,99.8 L234.8,99.6 L235.2,99.5 L235.6,99.3 L236.0,99.2 L236.4,99.0 L236.8,98.9 L237.2,98.7 L237.6,98.6 L238.0,98.4 L238.4,98.3 L238.8,98.1 L239.2,98.0 L239.6,97.8 L240.0,97.7 L240.4,97.5 L240.8,97.4 L241.2,97.3 L241.6,97.1 L242.0,97.0 L242.4,96.8 L242.8,96.7 L243.2,96.5 L243.6,96.3 L244.0,96.1 L244.4,96.0 L244.8,95.8 L245.2,95.6 L245.6,95.4 L246.0,95.2 L246.4,95.0 L246.8,94.8 L247.2,94.7 L247.6,94.5 L248.0,94.4 L248.4,94.3 L248.8,94.2 L249.2,94.2 L249.6,94.2 L250.0,94.2 L250.4,94.2 L250.8,94.3 L251.2,94.3 L251.6,94.4 L252.0,94.5 L252.4,94.5 L252.8,94.6 L253.2,94.7 L253.6,94.7 L254.0,94.8 L254.4,94.8 L254.8,94.9 L255.2,94.9 L255.6,94.9 L256.0,94.8 L256.4,94.7 L256.8,94.5 L257.2,94.2 L257.6,94.0 L258.0,93.7 L258.4,93.4 L258.8,93.1 L259.2,92.8 L259.6,92.6 L260.0,92.4 L260.4,92.2 L260.8,92.2 L261.2,92.2 L261.6,92.3 L262.0,92.4 L262.4,92.5 L262.8,92.7 L263.2,92.9 L263.6,93.0 L264.0,93.2 L264.4,93.3 L264.8,93.4 L265.2,93.4 L265.6,93.4 L266.0,93.3 L266.4,93.3 L266.8,93.2 L267.2,93.1 L267.6,92.9 L268.0,92.8 L268.4,92.6 L268.8,92.4 L269.2,92.3 L269.6,92.1 L270.0,91.9 L270.4,91.7 L270.8,91.6 L271.2,91.4 L271.6,91.3 L272.0,91.1 L272.4,91.0 L272.8,91.0 L273.2,90.9 L273.6,90.9 L274.0,90.9 L274.4,91.0 L274.8,91.1 L275.2,91.3 L275.6,91.5 L276.0,91.7 L276.4,91.9 L276.8,92.1 L277.2,92.4 L277.6,92.6 L278.0,92.9 L278.4,93.1 L278.8,93.3 L279.2,93.4 L279.6,93.6 L280.0,93.7 L280.4,93.7 L280.8,93.7 L281.2,93.7 L281.6,93.6 L282.0,93.5 L282.4,93.4 L282.8,93.3 L283.2,93.2 L283.6,93.2 L284.0,93.1 L284.4,93.0 L284.8,93.0 L285.2,93.0 L285.6,93.0 L286.0,93.1 L286.4,93.1 L286.8,93.2 L287.2,93.2 L287.6,93.3 L288.0,93.4 L288.4,93.4 L288.8,93.5 L289.2,93.5 L289.6,93.6 L290.0,93.6 L290.4,93.7 L290.8,93.7 L291.2,93.7 L291.6,93.7 L292.0,93.7 L292.4,93.7 L292.8,93.7 L293.2,93.7 L293.6,93.7 L294.0,93.7 L294.4,93.7 L294.8,93.7 L295.2,93.7 L295.6,93.7 L296.0,93.7 L296.4,93.7 L296.8,93.7 L297.2,93.7 L297.6,93.7 L298.0,93.7 L298.4,93.8 L298.8,93.9 L299.2,94.1 L299.6,94.3 L300.0,94.5 L300.4,94.7 L300.8,95.0 L301.2,95.3 L301.6,95.6 L302.0,95.9 L302.4,96.1 L302.8,96.3 L303.2,96.5 L303.6,96.7 L304.0,96.8 L304.4,96.9 L304.8,96.9 L305.2,96.9 L305.6,96.9 L306.0,96.8 L306.4,96.8 L306.8,96.7 L307.2,96.7 L307.6,96.6 L308.0,96.5 L308.4,96.4 L308.8,96.4 L309.2,96.3 L309.6,96.2 L310.0,96.2 L310.4,96.1 L310.8,96.1 L311.2,96.0 L311.6,96.0 L312.0,96.0 L312.4,96.0 L312.8,96.1 L313.2,96.2 L313.6,96.3 L314.0,96.5 L314.4,96.7 L314.8,97.0 L315.2,97.2 L315.6,97.4 L316.0,97.7 L316.4,97.9 L316.8,98.1 L317.2,98.2 L317.6,98.3 L318.0,98.4 L318.4,98.4 L318.8,98.4 L319.2,98.4 L319.6,98.3 L320.0,98.3 L320.4,98.3 L320.8,98.2 L321.2,98.2 L321.6,98.1 L322.0,98.0 L322.4,98.0 L322.8,97.9 L323.2,97.9 L323.6,97.9 L324.0,97.8 L324.4,97.8 L324.8,97.8 L325.2,97.8 L325.6,97.8 L326.0,97.9 L326.4,98.0 L326.8,98.1 L327.2,98.3 L327.6,98.5 L328.0,98.6 L328.4,98.8 L328.8,99.0 L329.2,99.2 L329.6,99.4 L330.0,99.6 L330.4,99.8 L330.8,99.9 L331.2,100.1 L331.6,100.2 L332.0,100.2 L332.4,100.3 L332.8,100.4 L333.2,100.5 L333.6,100.5 L334.0,100.6 L334.4,100.7 L334.8,100.7 L335.2,100.7 L335.6,100.7 L336.0,100.7 L336.4,100.6 L336.8,100.6 L337.2,100.6 L337.6,100.5 L338.0,100.4 L338.4,100.4 L338.8,100.3 L339.2,100.3 L339.6,100.2 L340.0,100.2 L340.4,100.2 L340.8,100.2 L341.2,100.3 L341.6,100.4 L342.0,100.5 L342.4,100.7 L342.8,100.9 L343.2,101.2 L343.6,101.4 L344.0,101.7 L344.4,102.0 L344.8,102.3 L345.2,102.6 L345.6,102.9 L346.0,103.1 L346.4,103.4 L346.8,103.6 L347.2,103.9 L347.6,104.2 L348.0,104.5 L348.4,104.8 L348.8,105.1 L349.2,105.4 L349.6,105.7 L350.0,105.9 L350.4,106.2 L350.8,106.4 L351.2,106.5 L351.6,106.6 L352.0,106.7 L352.4,106.8 L352.8,106.8 L353.2,106.8 L353.6,106.9 L354.0,106.9 L354.4,106.9 L354.8,107.0 L355.2,107.0 L355.6,107.0 L356.0,107.0 L356.4,107.0 L356.8,107.0 L357.2,106.9 L357.6,106.8 L358.0,106.7 L358.4,106.6 L358.8,106.5 L359.2,106.4 L359.6,106.3 L360.0,106.3 L360.4,106.3 L360.8,106.3 L361.2,106.4 L361.6,106.5 L362.0,106.7 L362.4,106.9 L362.8,107.1 L363.2,107.3 L363.6,107.5 L364.0,107.7 L364.4,107.9 L364.8,108.1 L365.2,108.3 L365.6,108.5 L366.0,108.7 L366.4,108.8 L366.8,109.0 L367.2,109.1 L367.6,109.2 L368.0,109.4 L368.4,109.5 L368.8,109.6 L369.2,109.7 L369.6,109.9 L370.0,110.0 L370.4,110.1 L370.8,110.2 L371.2,110.3 L371.6,110.4 L372.0,110.5 L372.4,110.6 L372.8,110.7 L373.2,110.8 L373.6,110.9 L374.0,111.0 L374.4,111.1 L374.8,111.2 L375.2,111.3 L375.6,111.4 L376.0,111.5 L376.4,111.5 L376.8,111.6 L377.2,111.7 L377.6,111.8 L378.0,111.9 L378.4,111.9 L378.8,112.0 L379.2,112.1 L379.6,112.1 L380.0,112.2 L380.4,112.2 L380.8,112.3 L381.2,112.3 L381.6,112.3 L382.0,112.3 L382.4,112.4 L382.8,112.4 L383.2,112.4 L383.6,112.4 L384.0,112.5 L384.4,112.5 L384.8,112.5 L385.2,112.5 L385.6,112.5 L386.0,112.5 L386.4,112.6 L386.8,112.6 L387.2,112.6 L387.6,112.6 L388.0,112.6 L388.4,112.6 L388.8,112.6 L389.2,112.6 L389.6,112.6 L390.0,112.5 L390.4,112.4 L390.8,112.3 L391.2,112.2 L391.6,112.1 L392.0,112.0 L392.4,111.9 L392.8,111.8 L393.2,111.7 L393.6,111.6 L394.0,111.6 L394.4,111.6 L394.8,111.7 L395.2,111.8 L395.6,111.9 L396.0,112.1 L396.4,112.3 L396.8,112.5 L397.2,112.7 L397.6,112.8 L398.0,113.0 L398.4,113.1 L398.8,113.1 L399.2,113.1 L399.6,113.0 L400.0,113.0 L400.4,112.9 L400.8,112.8 L401.2,112.7 L401.6,112.7 L402.0,112.6 L402.4,112.5 L402.8,112.4 L403.2,112.4 L403.6,112.3 L404.0,112.3 L404.4,112.3 L404.8,112.4 L405.2,112.5 L405.6,112.7 L406.0,112.9 L406.4,113.1 L406.8,113.3 L407.2,113.6 L407.6,113.8 L408.0,114.1 L408.4,114.3 L408.8,114.6 L409.2,114.9 L409.6,115.1 L410.0,115.3 L410.4,115.5 L410.8,115.6 L411.2,115.7 L411.6,115.8 L412.0,115.8 L412.4,115.9 L412.8,115.9 L413.2,115.9 L413.6,115.9 L414.0,116.0 L414.4,116.0 L414.8,116.0 L415.2,116.0 L415.6,116.1 L416.0,116.1 L416.4,116.1 L416.8,116.3 L417.2,116.4 L417.6,116.6 L418.0,116.8 L418.4,117.0 L418.8,117.3 L419.2,117.5 L419.6,117.8 L420.0,118.0 L420.4,118.2 L420.8,118.4 L421.2,118.5 L421.6,118.6 L422.0,118.7 L422.4,118.7 L422.8,118.7 L423.2,118.6 L423.6,118.5 L424.0,118.4 L424.4,118.2 L424.8,118.1 L425.2,117.9 L425.6,117.8 L426.0,117.6 L426.4,117.4 L426.8,117.2 L427.2,117.1 L427.6,116.9 L428.0,116.8 L428.4,116.7 L428.8,116.6 L429.2,116.5 L429.6,116.5 L430.0,116.5 L430.4,116.6 L430.8,116.7 L431.2,116.8 L431.6,116.9 L432.0,117.1 L432.4,117.3 L432.8,117.5 L433.2,117.7 L433.6,117.9 L434.0,118.1 L434.4,118.3 L434.8,118.4 L435.2,118.6 L435.6,118.7 L436.0,118.8 L436.4,118.8 L436.8,118.8 L437.2,118.7 L437.6,118.7 L438.0,118.6 L438.4,118.4 L438.8,118.3 L439.2,118.1 L439.6,118.0 L440.0,117.8 L440.4,117.6 L440.8,117.4 L441.2,117.1 L441.6,116.9 L442.0,116.7 L442.4,116.5 L442.8,116.3 L443.2,116.2 L443.6,116.0 L444.0,115.8 L444.4,115.7 L444.8,115.6 L445.2,115.5 L445.6,115.5 L446.0,115.4 L446.4,115.3 L446.8,115.3 L447.2,115.2 L447.6,115.2 L448.0,115.1 L448.4,115.1 L448.8,115.0 L449.2,115.0 L449.6,114.9 L450.0,114.9 L450.4,114.8 L450.8,114.8 L451.2,114.7 L451.6,114.7 L452.0,114.6 L452.4,114.6 L452.8,114.5 L453.2,114.4 L453.6,114.4 L454.0,114.3 L454.4,114.3 L454.8,114.2 L455.2,114.1 L455.6,114.0 L456.0,113.9 L456.4,113.9 L456.8,113.7 L457.2,113.6 L457.6,113.4 L458.0,113.2 L458.4,113.0 L458.8,112.7 L459.2,112.4 L459.6,112.1 L460.0,111.8 L460.4,111.4 L460.8,111.1 L461.2,110.8 L461.6,110.4 L462.0,110.1 L462.4,109.8 L462.8,109.5 L463.2,109.2 L463.6,108.9 L464.0,108.6 L464.4,108.4 L464.8,108.2 L465.2,107.9 L465.6,107.7 L466.0,107.5 L466.4,107.3 L466.8,107.1 L467.2,106.9 L467.6,106.7 L468.0,106.5 L468.4,106.3 L468.8,106.2 L469.2,106.0 L469.6,105.8 L470.0,105.6 L470.4,105.4 L470.8,105.2 L471.2,105.0 L471.6,104.8 L472.0,104.7 L472.4,104.5 L472.8,104.3 L473.2,104.1 L473.6,103.9 L474.0,103.7 L474.4,103.5 L474.8,103.4 L475.2,103.2 L475.6,103.0 L476.0,102.8 L476.4,102.6 L476.8,102.4 L477.2,102.3 L477.6,102.1 L478.0,101.9 L478.4,101.7 L478.8,101.5 L479.2,101.3 L479.6,101.2 L480.0,101.0 L480.4,100.8 L480.8,100.6 L481.2,100.4 L481.6,100.3 L482.0,100.1 L482.4,99.9 L482.8,99.7 L483.2,99.5 L483.6,99.4 L484.0,99.2 L484.4,99.0 L484.8,98.8 L485.2,98.6 L485.6,98.5 L486.0,98.3 L486.4,98.1 L486.8,97.9 L487.2,97.7 L487.6,97.6 L488.0,97.4 L488.4,97.2 L488.8,97.0 L489.2,96.8 L489.6,96.7 L490.0,96.5 L490.4,96.3 L490.8,96.1 L491.2,95.9 L491.6,95.7 L492.0,95.5 L492.4,95.4 L492.8,95.2 L493.2,95.0 L493.6,94.8 L494.0,94.6 L494.4,94.4 L494.8,94.3 L495.2,94.1 L495.6,93.9 L496.0,93.7 L496.4,93.5 L496.8,93.4 L497.2,93.2 L497.6,93.0 L498.0,92.8 L498.4,92.6 L498.8,92.4 L499.2,92.2 L499.6,92.1 L500.0,91.9 L500.4,91.7 L500.8,91.5 L501.2,91.3 L501.6,91.1 L502.0,91.0 L502.4,90.8 L502.8,90.7 L503.2,90.5 L503.6,90.4 L504.0,90.2 L504.4,90.1 L504.8,89.9 L505.2,89.7 L505.6,89.6 L506.0,89.4 L506.4,89.3 L506.8,89.1 L507.2,89.0 L507.6,88.9 L508.0,88.7 L508.4,88.6 L508.8,88.6 L509.2,88.5 L509.6,88.4 L510.0,88.4 L510.4,88.4 L510.8,88.4 L511.2,88.4 L511.6,88.4 L512.0,88.4 L512.4,88.4 L512.8,88.4 L513.2,88.4 L513.6,88.4 L514.0,88.4 L514.4,88.4 L514.8,88.5 L515.2,88.5 L515.6,88.5 L516.0,88.5 L516.4,88.5 L516.8,88.5 L517.2,88.5 L517.6,88.5 L518.0,88.6 L518.4,88.6 L518.8,88.6 L519.2,88.6 L519.6,88.6 L520.0,88.7 L520.4,88.7 L520.8,88.7 L521.2,88.7 L521.6,88.8 L522.0,88.8 L522.4,88.9 L522.8,89.0 L523.2,89.1 L523.6,89.2 L524.0,89.3 L524.4,89.4 L524.8,89.5 L525.2,89.7 L525.6,89.8 L526.0,89.9 L526.4,90.0 L526.8,90.2 L527.2,90.3 L527.6,90.4 L528.0,90.5 L528.4,90.6 L528.8,90.7 L529.2,90.8 L529.6,91.0 L530.0,91.1 L530.4,91.2 L530.8,91.4 L531.2,91.5 L531.6,91.6 L532.0,91.7 L532.4,91.8 L532.8,91.9 L533.2,92.0 L533.6,92.0 L534.0,92.1 L534.4,92.1 L534.8,92.1 L535.2,92.1 L535.6,92.1 L536.0,92.0 L536.4,92.0 L536.8,92.0 L537.2,91.9 L537.6,91.9 L538.0,91.8 L538.4,91.7 L538.8,91.7 L539.2,91.6 L539.6,91.5 L540.0,91.4 L540.4,91.3 L540.8,91.0 L541.2,90.8 L541.6,90.4 L542.0,90.1 L542.4,89.8 L542.8,89.4 L543.2,89.0 L543.6,88.7 L544.0,88.4 L544.4,88.1 L544.8,87.8 L545.2,87.7 L545.6,87.5 L546.0,87.4 L546.4,87.3 L546.8,87.2 L547.2,87.1 L547.6,87.0 L548.0,86.9 L548.4,86.9 L548.8,86.8 L549.2,86.8 L549.6,86.7 L550.0,86.7 L550.4,86.7 L550.8,86.7 L551.2,86.8 L551.6,86.9 L552.0,87.0 L552.4,87.1 L552.8,87.2 L553.2,87.4 L553.6,87.5 L554.0,87.7 L554.4,87.9 L554.8,88.1 L555.2,88.3 L555.6,88.5 L556.0,88.8 L556.4,89.2 L556.8,89.8 L557.2,90.4 L557.6,91.1 L558.0,91.8 L558.4,92.6 L558.8,93.2 L559.2,93.8 L559.6,94.4 L560.0,94.7 L560.4,94.9 L560.8,95.1 L561.2,95.2 L561.6,95.3 L562.0,95.4 L562.4,95.3 L562.8,94.6 L563.2,94.0 L563.6,94.0 L564.0,94.3 L564.4,95.0 L564.8,95.7 L565.2,96.5 L565.6,97.1 L566.0,97.6 L566.4,97.9 L566.8,98.2 L567.2,98.4 L567.6,98.6 L568.0,98.7 L568.4,98.9 L568.8,99.1 L569.2,99.3 L569.6,99.6 L570.0,99.9 L570.4,100.3 L570.8,101.0 L571.2,102.0 L571.6,103.2 L572.0,104.7 L572.4,106.1 L572.8,107.5 L573.2,108.7 L573.6,110.0 L574.0,111.3 L574.4,112.6 L574.8,113.9 L575.2,115.2 L575.6,116.6 L576.0,118.0 L576.4,119.4 L576.8,120.9 L577.2,122.4 L577.6,124.1 L578.0,125.9 L578.4,127.7 L578.8,129.5 L579.2,131.2 L579.6,133.0 L580.0,134.6 L580.4,136.1 L580.8,137.4 L581.2,138.6 L581.6,139.8 L582.0,141.0 L582.4,142.2 L582.8,143.2 L583.2,144.1 L583.6,144.8 L584.0,145.2 L584.4,145.5 L584.8,145.6 L585.2,145.8 L585.6,145.9 L586.0,145.9 L586.4,145.8 L586.8,145.7 L587.2,145.5 L587.6,145.2 L588.0,144.9 L588.4,144.6 L588.8,144.2 L589.2,143.9 L589.6,143.5 L590.0,143.0 L590.4,142.7 L590.8,142.3 L591.2,141.9 L591.6,141.6 L592.0,141.3 L592.4,141.1 L592.8,140.9 L593.2,140.8 L593.6,140.8 L594.0,140.9 L594.4,141.1 L594.8,141.3 L595.2,141.6 L595.6,142.0 L596.0,142.4 L596.4,142.7 L596.8,143.1 L597.2,143.4 L597.6,143.7 L598.0,143.9 L598.4,144.0 L598.8,144.0 L599.2,143.9 L599.6,143.7 L600.0,143.5 L600.4,143.2 L600.8,142.9 L601.2,142.5 L601.6,142.1 L602.0,141.7 L602.4,141.3 L602.8,140.8 L603.2,140.4 L603.6,140.0 L604.0,139.5 L604.4,139.2 L604.8,138.8 L605.2,138.5 L605.6,138.3 L606.0,138.1 L606.4,137.9 L606.8,137.9 L607.2,138.0 L607.6,138.1 L608.0,138.4 L608.4,138.8 L608.8,139.2 L609.2,139.7 L609.6,140.2 L610.0,140.7 L610.4,141.2 L610.8,141.8 L611.2,142.4 L611.6,143.1 L612.0,143.9 L612.4,144.8 L612.8,145.7 L613.2,146.7 L613.6,147.6 L614.0,148.5 L614.4,149.4 L614.8,150.2 L615.2,150.9 L615.6,151.5 L616.0,152.0 L616.4,152.4 L616.8,152.8 L617.2,153.2 L617.6,153.5 L618.0,153.8 L618.4,154.1 L618.8,154.4 L619.2,154.7 L619.6,155.0 L620.0,155.3 L620.4,155.6 L620.8,156.0 L621.2,156.4 L621.6,156.8 L622.0,157.3 L622.4,157.9 L622.8,158.5 L623.2,159.2 L623.6,160.0 L624.0,160.9 L624.4,161.8 L624.8,162.7 L625.2,163.6 L625.6,164.6 L626.0,165.5 L626.4,166.5 L626.8,167.4 L627.2,168.2 L627.6,169.1 L628.0,170.1 L628.4,171.1 L628.8,172.1 L629.2,172.9 L629.6,173.7 L630.0,174.3 L630.4,174.7 L630.8,175.1 L631.2,175.5 L631.6,175.9 L632.0,176.1 L632.4,176.3 L632.8,176.3 L633.2,176.3 L633.6,176.2 L634.0,176.0 L634.4,175.9 L634.8,175.7 L635.2,175.4 L635.6,175.2 L636.0,175.0 L636.4,174.8 L636.8,174.6 L637.2,174.4 L637.6,174.3 L638.0,174.2 L638.4,174.2 L638.8,174.3 L639.2,174.7 L639.6,175.2 L640.0,175.9 L640.4,176.6 L640.8,177.4 L641.2,178.3 L641.6,179.5 L642.0,181.1 L642.4,182.8 L642.8,184.6 L643.2,186.6 L643.6,188.4 L644.0,190.2 L644.4,191.8 L644.8,193.1 L645.2,194.3 L645.6,195.4 L646.0,196.4 L646.4,197.4 L646.8,198.4 L647.2,199.3 L647.6,200.2 L648.0,201.1 L648.4,202.1 L648.8,203.0 L649.2,204.0 L649.6,205.1 L650.0,206.3 L650.4,207.7 L650.8,209.3 L651.2,211.0 L651.6,212.7 L652.0,214.4 L652.4,215.9 L652.8,217.4 L653.2,218.6 L653.6,219.6 L654.0,220.2 L654.4,220.4 L654.8,220.3 L655.2,220.0 L655.6,219.5 L656.0,219.0 L656.4,218.3 L656.8,217.6 L657.2,216.9 L657.6,216.2 L658.0,215.6 L658.4,215.1 L658.8,214.6 L659.2,214.1 L659.6,213.6 L660.0,213.0 L660.4,212.3 L660.8,211.3 L661.2,210.1 L661.6,206.7 L662.0,202.3 L662.4,199.1 L662.8,197.2 L663.2,195.5 L663.6,194.1 L664.0,193.2 L664.4,193.0 L664.8,193.0 L665.2,193.0 L665.6,193.0 L666.0,193.0 L666.4,193.1 L666.8,193.1 L667.2,193.1 L667.6,193.2 L668.0,193.2 L668.4,193.3 L668.8,193.3 L669.2,193.4 L669.6,193.5 L670.0,193.7 L670.4,194.1 L670.8,194.7 L671.2,195.4 L671.6,196.1 L672.0,197.0 L672.4,197.9 L672.8,198.8 L673.2,199.7 L673.6,200.7 L674.0,202.0 L674.4,203.3 L674.8,204.9 L675.2,206.4 L675.6,208.0 L676.0,209.6 L676.4,211.0 L676.8,212.4 L677.2,213.6 L677.6,214.6 L678.0,215.5 L678.4,216.4 L678.8,217.3 L679.2,218.4 L679.6,219.8 L680.0,221.4 L680.4,223.3 L680.8,225.6 L681.2,228.1 L681.6,231.2 L682.0,235.2 L682.4,239.6 L682.8,244.4 L683.2,249.4 L683.6,254.4 L684.0,259.2 L684.4,263.8 L684.8,268.5 L685.2,273.0 L685.6,277.4 L686.0,281.6 L686.4,285.7 L686.8,289.2 L687.2,292.4 L687.6,295.6 L688.0,298.5 L688.4,301.0 L688.8,302.9 L689.2,304.2 L689.6,304.9 L690.0,305.3 L690.4,305.7 L690.8,306.2 L691.2,307.0 L691.6,308.7 L692.0,311.1 L692.4,314.0 L692.8,316.8 L693.2,319.3 L693.6,321.4 L694.0,323.6 L694.4,325.9 L694.8,328.7 L695.2,332.7 L695.6,338.2 L696.0,343.2 L696.4,346.3 L696.8,348.6 L697.2,350.6 L697.6,352.3 L698.0,353.8 L698.4,355.3 L698.8,356.8 L699.2,358.2 L699.6,359.7 L700.0,361.0 L700.4,362.3 L700.8,363.4 L701.2,364.4 L701.6,365.2 L702.0,366.1 L702.4,366.9 L702.8,367.6 L703.2,368.2 L703.6,368.8 L704.0,369.3 L704.4,369.7" stroke="#0a0a0a" stroke-width="2.5" fill="none" stroke-linejoin="round"/></g>
<path d="M82.0,30.1H705.0" stroke="#646464" stroke-width="1.2"/>
<path d="M82.0,399.05H705.0" stroke="#505050" stroke-width="1.5"/>
<path d="M82.5,30.1V399.05M704.5,30.1V399.05" stroke="#484848" stroke-width="1.1"/>
<path d="M82.5,399.05h-5.7 M82.5,391.67h-3.0 M82.5,384.29h-3.0 M82.5,376.91h-3.0 M82.5,369.53h-3.0 M82.5,362.16h-5.7 M82.5,354.78h-3.0 M82.5,347.40h-3.0 M82.5,340.02h-3.0 M82.5,332.64h-3.0 M82.5,325.26h-5.7 M82.5,317.88h-3.0 M82.5,310.50h-3.0 M82.5,303.12h-3.0 M82.5,295.74h-3.0 M82.5,288.37h-5.7 M82.5,280.99h-3.0 M82.5,273.61h-3.0 M82.5,266.23h-3.0 M82.5,258.85h-3.0 M82.5,251.47h-5.7 M82.5,244.09h-3.0 M82.5,236.71h-3.0 M82.5,229.33h-3.0 M82.5,221.95h-3.0 M82.5,214.58h-5.7 M82.5,207.20h-3.0 M82.5,199.82h-3.0 M82.5,192.44h-3.0 M82.5,185.06h-3.0 M82.5,177.68h-5.7 M82.5,170.30h-3.0 M82.5,162.92h-3.0 M82.5,155.54h-3.0 M82.5,148.16h-3.0 M82.5,140.79h-5.7 M82.5,133.41h-3.0 M82.5,126.03h-3.0 M82.5,118.65h-3.0 M82.5,111.27h-3.0 M82.5,103.89h-5.7 M82.5,96.51h-3.0 M82.5,89.13h-3.0 M82.5,81.75h-3.0 M82.5,74.37h-3.0 M82.5,67.00h-5.7 M82.5,59.62h-3.0 M82.5,52.24h-3.0 M82.5,44.86h-3.0 M82.5,37.48h-3.0 M82.5,30.10h-5.7 M704.5,399.05h5.4 M704.5,391.67h2.8 M704.5,384.29h2.8 M704.5,376.91h2.8 M704.5,369.53h2.8 M704.5,362.16h2.8 M704.5,354.78h2.8 M704.5,347.40h2.8 M704.5,340.02h2.8 M704.5,332.64h2.8 M704.5,325.26h5.4 M704.5,317.88h2.8 M704.5,310.50h2.8 M704.5,303.12h2.8 M704.5,295.74h2.8 M704.5,288.37h2.8 M704.5,280.99h2.8 M704.5,273.61h2.8 M704.5,266.23h2.8 M704.5,258.85h2.8 M704.5,251.47h5.4 M704.5,244.09h2.8 M704.5,236.71h2.8 M704.5,229.33h2.8 M704.5,221.95h2.8 M704.5,214.58h2.8 M704.5,207.20h2.8 M704.5,199.82h2.8 M704.5,192.44h2.8 M704.5,185.06h2.8 M704.5,177.68h5.4 M704.5,170.30h2.8 M704.5,162.92h2.8 M704.5,155.54h2.8 M704.5,148.16h2.8 M704.5,140.79h2.8 M704.5,133.41h2.8 M704.5,126.03h2.8 M704.5,118.65h2.8 M704.5,111.27h2.8 M704.5,103.89h5.4 M704.5,96.51h2.8 M704.5,89.13h2.8 M704.5,81.75h2.8 M704.5,74.37h2.8 M704.5,67.00h2.8 M704.5,59.62h2.8 M704.5,52.24h2.8 M704.5,44.86h2.8 M704.5,37.48h2.8 M704.5,30.10h5.4 M82.25,399.05v6.0 M118.77,399.05v3.0 M144.67,399.05v3.0 M164.77,399.05v6.0 M181.19,399.05v3.0 M195.07,399.05v3.0 M207.10,399.05v3.0 M217.70,399.05v3.0 M227.19,399.05v6.0 M289.62,399.05v6.0 M326.13,399.05v3.0 M352.04,399.05v3.0 M372.14,399.05v3.0 M388.56,399.05v3.0 M402.44,399.05v3.0 M414.46,399.05v3.0 M425.07,399.05v3.0 M434.56,399.05v6.0 M496.98,399.05v6.0 M533.50,399.05v3.0 M559.41,399.05v3.0 M579.50,399.05v6.0 M595.92,399.05v3.0 M609.80,399.05v3.0 M621.83,399.05v3.0 M632.44,399.05v3.0 M641.93,399.05v6.0 M704.35,399.05v6.0" stroke="#505050" stroke-width="1.1" fill="none"/>
<g font-size="13.1">
<text x="73.2" y="403.8" text-anchor="end">50</text>
<text x="73.2" y="366.9" text-anchor="end">55</text>
<text x="73.2" y="330.0" text-anchor="end">60</text>
<text x="73.2" y="293.1" text-anchor="end">65</text>
<text x="73.2" y="256.2" text-anchor="end">70</text>
<text x="73.2" y="219.3" text-anchor="end">75</text>
<text x="73.2" y="182.4" text-anchor="end">80</text>
<text x="73.2" y="145.5" text-anchor="end">85</text>
<text x="73.2" y="108.6" text-anchor="end">90</text>
<text x="73.2" y="71.7" text-anchor="end">95</text>
<text x="73.2" y="34.8" text-anchor="end">100</text>
<text x="713.2" y="403.9">0</text>
<text x="713.2" y="330.2">10</text>
<text x="713.2" y="256.4">20</text>
<text x="713.2" y="182.6">30</text>
<text x="713.2" y="108.8">40</text>
<text x="713.2" y="35.0">50</text>
<text x="82.2" y="418.4" text-anchor="middle">20</text>
<text x="164.8" y="418.4" text-anchor="middle">50</text>
<text x="227.2" y="418.4" text-anchor="middle">100</text>
<text x="289.6" y="418.4" text-anchor="middle">200</text>
<text x="434.6" y="418.4" text-anchor="middle">1000</text>
<text x="497.0" y="418.4" text-anchor="middle">2000</text>
<text x="579.5" y="418.4" text-anchor="middle">5000</text>
<text x="641.9" y="418.4" text-anchor="middle">10000</text>
<text x="704.4" y="418.4" text-anchor="middle">20000</text>
</g>
<text font-size="17.8" text-anchor="middle" transform="translate(42.8,214.9) rotate(-90)">SPL (dB) @ 2.83V, 1m, half space</text>
<text font-size="17.72" text-anchor="middle" transform="translate(748.6,215.5) rotate(90)">Impedance (Ohm)</text>
<text font-size="17.8" text-anchor="middle" x="393" y="442.4">Frequency (Hz)</text>
<rect x="93" y="41.3" width="134" height="45.6" fill="#ffffff" stroke="#c4c4c4" stroke-width="1"/>
<path d="M96.8,51.6H124" stroke="#ffe9b8" stroke-width="4.6" style="mix-blend-mode:multiply"/>
<path d="M97.6,51.6H123.2" stroke="#d4a042" stroke-width="2.1"/>
<path d="M97.6,64.4H123.2" stroke="#0a0a0a" stroke-width="2.3"/>
<path d="M97.6,77.1H123.2" stroke="#111" stroke-width="1.5" stroke-dasharray="6.8 2.7"/>
<g font-size="13.3"><text x="131.6" y="55.9">Impedance</text><text x="132.4" y="68.6">on axis</text><text x="132.4" y="81.3">45° off axis</text></g>
</svg>
</body></html>
